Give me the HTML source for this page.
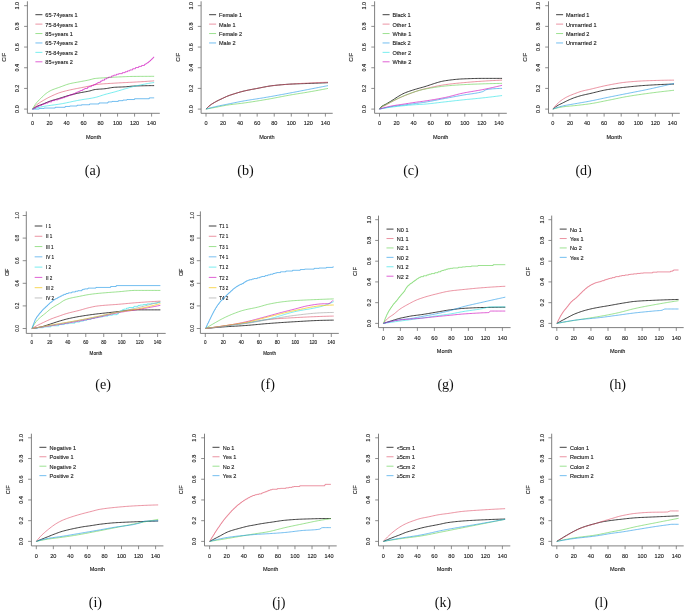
<!DOCTYPE html>
<html><head><meta charset="utf-8"><title>CIF curves</title>
<style>
html,body{margin:0;padding:0;background:#fff;}
body{width:685px;height:611px;overflow:hidden;}
svg{display:block;}
.gp text{text-rendering:geometricPrecision;}
text{font-family:"Liberation Sans",sans-serif;fill:#1a1a1a;stroke:#1a1a1a;stroke-width:0.12px;}
text.cap{font-family:"Liberation Serif",serif;font-size:14.1px;fill:#111;stroke:none;}
</style></head>
<body>
<svg width="685" height="611" viewBox="0 0 685 611">
<defs><filter id="bl" x="0" y="0" width="100%" height="100%"><feGaussianBlur stdDeviation="0.4"/></filter></defs>
<rect width="685" height="611" fill="#fff"/>
<g filter="url(#bl)">
<g font-size="5.55"><path d="M27.4 1.3V113.3H159.8" fill="none" stroke="#727272" stroke-width="0.9"/>
<path d="M24.1 109.1H27.4M24.1 88.42H27.4M24.1 67.74H27.4M24.1 47.06H27.4M24.1 26.38H27.4M24.1 5.7H27.4M32.5 113.3V116.6M49.51 113.3V116.6M66.53 113.3V116.6M83.54 113.3V116.6M100.56 113.3V116.6M117.57 113.3V116.6M134.59 113.3V116.6M151.6 113.3V116.6" fill="none" stroke="#727272" stroke-width="0.8"/>
<text x="32.5" y="125" text-anchor="middle">0</text>
<text x="49.51" y="125" text-anchor="middle">20</text>
<text x="66.53" y="125" text-anchor="middle">40</text>
<text x="83.54" y="125" text-anchor="middle">60</text>
<text x="100.56" y="125" text-anchor="middle">80</text>
<text x="117.57" y="125" text-anchor="middle">100</text>
<text x="134.59" y="125" text-anchor="middle">120</text>
<text x="151.6" y="125" text-anchor="middle">140</text>
<text transform="translate(19.2 109.1) rotate(-90)" text-anchor="middle">0.0</text>
<text transform="translate(19.2 88.42) rotate(-90)" text-anchor="middle">0.2</text>
<text transform="translate(19.2 67.74) rotate(-90)" text-anchor="middle">0.4</text>
<text transform="translate(19.2 47.06) rotate(-90)" text-anchor="middle">0.6</text>
<text transform="translate(19.2 26.38) rotate(-90)" text-anchor="middle">0.8</text>
<text transform="translate(19.2 5.7) rotate(-90)" text-anchor="middle">1.0</text>
<text x="93.6" y="138.8" text-anchor="middle">Month</text>
<text transform="translate(6.2 57.3) rotate(-90)" text-anchor="middle">CIF</text>
<path d="M35.4 14.7H42.4" stroke="#000000" stroke-width="1" stroke-opacity="0.75"/>
<text x="45.3" y="17.2">65-74years 1</text>
<path d="M35.4 24.12H42.4" stroke="#DF536B" stroke-width="1" stroke-opacity="0.62"/>
<text x="45.3" y="26.62">75-84years 1</text>
<path d="M35.4 33.54H42.4" stroke="#61D04F" stroke-width="1" stroke-opacity="0.62"/>
<text x="45.3" y="36.04">85+years 1</text>
<path d="M35.4 42.96H42.4" stroke="#2297E6" stroke-width="1" stroke-opacity="0.62"/>
<text x="45.3" y="45.46">65-74years 2</text>
<path d="M35.4 52.38H42.4" stroke="#28E2E5" stroke-width="1" stroke-opacity="0.62"/>
<text x="45.3" y="54.88">75-84years 2</text>
<path d="M35.4 61.8H42.4" stroke="#CD0BBC" stroke-width="1" stroke-opacity="0.62"/>
<text x="45.3" y="64.3">85+years 2</text>
<path d="M32.5 109.1 33.87 108.18 35.23 107.33 36.6 106.57 37.97 105.93 39.33 105.37 40.7 104.86 42.07 104.36 43.44 103.84 44.8 103.28 46.17 102.7 47.54 102.12 48.9 101.57 50.27 101.05 51.64 100.6 53 100.18 54.37 99.79 55.74 99.41 57.1 99.03 58.47 98.62 59.84 98.2 61.2 97.77 62.57 97.33 63.94 96.9 65.31 96.47 66.67 96.05 68.04 95.64 69.41 95.26 70.77 94.9 72.14 94.55 73.51 94.22 74.87 93.89 76.24 93.58 77.61 93.28 78.97 92.99 80.34 92.71 81.71 92.45 83.07 92.2 84.44 91.97 85.81 91.73 87.18 91.48 88.54 91.21 89.91 90.91 91.28 90.52 92.64 90.09 94.01 89.73 95.38 89.5 96.74 89.35 98.11 89.23 99.48 89.14 100.84 89.05 102.21 88.96 103.58 88.85 104.94 88.72 106.31 88.54 107.68 88.32 109.05 88.07 110.41 87.83 111.78 87.6 113.15 87.42 114.51 87.29 115.88 87.21 117.25 87.15 118.61 87.09 119.98 87.05 121.35 87 122.71 86.95 124.08 86.89 125.45 86.8 126.81 86.69 128.18 86.55 129.55 86.41 130.92 86.27 132.28 86.16 133.65 86.07 135.02 86.01 136.38 85.97 137.75 85.92 139.12 85.88 140.48 85.84 141.85 85.8 143.22 85.77 144.58 85.74 145.95 85.71 147.32 85.69 148.68 85.67 150.05 85.65 151.42 85.64 152.79 85.63 154.15 85.63" fill="none" stroke="#000000" stroke-width="1" stroke-opacity="0.75"/>
<path d="M32.5 109.1 33.87 107.58 35.23 106.17 36.6 104.92 37.97 103.85 39.33 102.89 40.7 102.02 42.07 101.19 43.44 100.38 44.8 99.58 46.17 98.8 47.54 98.05 48.9 97.33 50.27 96.65 51.64 96 53 95.37 54.37 94.75 55.74 94.16 57.1 93.6 58.47 93.08 59.84 92.6 61.2 92.17 62.57 91.77 63.94 91.4 65.31 91.05 66.67 90.71 68.04 90.39 69.41 90.07 70.77 89.76 72.14 89.47 73.51 89.19 74.87 88.92 76.24 88.65 77.61 88.39 78.97 88.12 80.34 87.85 81.71 87.59 83.07 87.33 84.44 87.07 85.81 86.8 87.18 86.53 88.54 86.25 89.91 85.95 91.28 85.58 92.64 85.19 94.01 84.86 95.38 84.64 96.74 84.47 98.11 84.32 99.48 84.18 100.84 84.06 102.21 83.94 103.58 83.84 104.94 83.74 106.31 83.65 107.68 83.56 109.05 83.48 110.41 83.4 111.78 83.32 113.15 83.24 114.51 83.15 115.88 83.07 117.25 82.99 118.61 82.91 119.98 82.84 121.35 82.77 122.71 82.7 124.08 82.63 125.45 82.56 126.81 82.5 128.18 82.43 129.55 82.36 130.92 82.29 132.28 82.22 133.65 82.15 135.02 82.07 136.38 81.99 137.75 81.91 139.12 81.83 140.48 81.75 141.85 81.66 143.22 81.58 144.58 81.49 145.95 81.41 147.32 81.32 148.68 81.23 150.05 81.14 151.42 81.05 152.79 80.96 154.15 80.87" fill="none" stroke="#DF536B" stroke-width="1" stroke-opacity="0.62"/>
<path d="M32.5 109.1 33.87 106.69 35.23 104.54 36.6 102.67 37.97 101.13 39.33 99.82 40.7 98.48 42.07 97.07 43.44 95.72 44.8 94.52 46.17 93.42 47.54 92.44 48.9 91.55 50.27 90.77 51.64 90.12 53 89.55 54.37 89.03 55.74 88.54 57.1 88.07 58.47 87.6 59.84 87.13 61.2 86.62 62.57 86.11 63.94 85.59 65.31 85.09 66.67 84.61 68.04 84.17 69.41 83.78 70.77 83.44 72.14 83.15 73.51 82.89 74.87 82.64 76.24 82.4 77.61 82.16 78.97 81.91 80.34 81.65 81.71 81.39 83.07 81.13 84.44 80.87 85.81 80.6 87.18 80.33 88.54 80.05 89.91 79.74 91.28 79.37 92.64 78.98 94.01 78.65 95.38 78.44 96.74 78.3 98.11 78.19 99.48 78.09 100.84 78.01 102.21 77.93 103.58 77.85 104.94 77.76 106.31 77.67 107.68 77.57 109.05 77.48 110.41 77.39 111.78 77.3 113.15 77.22 114.51 77.15 115.88 77.09 117.25 77.02 118.61 76.95 119.98 76.89 121.35 76.83 122.71 76.76 124.08 76.71 125.45 76.65 126.81 76.6 128.18 76.55 129.55 76.51 130.92 76.48 132.28 76.45 133.65 76.43 135.02 76.42 136.38 76.41 137.75 76.4 139.12 76.38 140.48 76.37 141.85 76.37 143.22 76.36 144.58 76.35 145.95 76.34 147.32 76.34 148.68 76.33 150.05 76.33 151.42 76.32 152.79 76.32 154.15 76.32" fill="none" stroke="#61D04F" stroke-width="1" stroke-opacity="0.62"/>
<path d="M32.5 109.1 39.13 109.1 39.13 108.45 44 108.45 44 108.04 55.2 108.04 55.2 107.31 65.18 107.31 65.18 106.46 69.68 106.46 69.68 106.01 77.11 106.01 77.11 105.22 81.61 105.22 81.61 104.75 89.52 104.75 89.52 103.97 99.02 103.97 99.02 102.96 108.02 102.96 108.02 101.92 112.1 101.92 112.1 101.43 118.31 101.43 118.31 100.67 122.93 100.67 122.93 100.06 127.01 100.06 127.01 99.53 134.56 99.53 134.56 98.73 149.28 98.73 149.28 97.86 154.15 97.86" fill="none" stroke="#2297E6" stroke-width="1" stroke-opacity="0.62"/>
<path d="M32.5 109.1 33.87 108.71 35.23 108.33 36.6 107.97 37.97 107.63 39.33 107.31 40.7 107.01 42.07 106.73 43.44 106.47 44.8 106.23 46.17 106.01 47.54 105.81 48.9 105.62 50.27 105.43 51.64 105.23 53 105.04 54.37 104.85 55.74 104.67 57.1 104.47 58.47 104.27 59.84 104.06 61.2 103.83 62.57 103.58 63.94 103.32 65.31 103.05 66.67 102.77 68.04 102.48 69.41 102.19 70.77 101.9 72.14 101.6 73.51 101.31 74.87 101.02 76.24 100.74 77.61 100.47 78.97 100.21 80.34 99.96 81.71 99.73 83.07 99.51 84.44 99.31 85.81 99.1 87.18 98.9 88.54 98.69 89.91 98.47 91.28 98.24 92.64 97.99 94.01 97.72 95.38 97.42 96.74 97.07 98.11 96.66 99.48 96.23 100.84 95.77 102.21 95.32 103.58 94.89 104.94 94.48 106.31 94.11 107.68 93.74 109.05 93.39 110.41 93.04 111.78 92.69 113.15 92.33 114.51 91.96 115.88 91.57 117.25 91.17 118.61 90.77 119.98 90.36 121.35 89.95 122.71 89.55 124.08 89.15 125.45 88.76 126.81 88.36 128.18 87.97 129.55 87.58 130.92 87.2 132.28 86.83 133.65 86.49 135.02 86.17 136.38 85.86 137.75 85.56 139.12 85.26 140.48 84.97 141.85 84.68 143.22 84.4 144.58 84.13 145.95 83.87 147.32 83.62 148.68 83.38 150.05 83.15 151.42 82.93 152.79 82.72 154.15 82.53" fill="none" stroke="#28E2E5" stroke-width="1" stroke-opacity="0.62"/>
<path d="M32.5 109.1 33.65 109.1 33.65 108.32 35.48 108.32 35.48 107.19 37.18 107.19 37.18 106.29 39.12 106.29 39.12 105.45 41.61 105.45 41.61 104.52 43.31 104.52 43.31 103.89 45.31 103.89 45.31 103.06 48.05 103.06 48.05 101.9 51.69 101.9 51.69 100.6 54.61 100.6 54.61 99.83 58.07 99.83 58.07 98.98 60.37 98.98 60.37 98.33 62.38 98.33 62.38 97.68 64.56 97.68 64.56 96.91 66.45 96.91 66.45 96.22 68.45 96.22 68.45 95.46 70.09 95.46 70.09 94.84 72.76 94.84 72.76 93.81 75.19 93.81 75.19 92.83 76.53 92.83 76.53 92.28 77.86 92.28 77.86 91.73 79.38 91.73 79.38 91.08 80.66 91.08 80.66 90.51 82.48 90.51 82.48 89.66 83.76 89.66 83.76 89.05 84.97 89.05 84.97 88.47 87.52 88.47 87.52 87.25 88.86 87.25 88.86 86.64 91.41 86.64 91.41 85.56 93.71 85.56 93.71 84.62 95.78 84.62 95.78 83.67 96.93 83.67 96.93 83.08 98.09 83.08 98.09 82.45 100.33 82.45 100.33 81.17 102.1 81.17 102.1 80.19 104.52 80.19 104.52 78.94 106.59 78.94 106.59 78.01 108.53 78.01 108.53 77.17 111.63 77.17 111.63 75.94 113.82 75.94 113.82 75.14 116.49 75.14 116.49 74.28 118.73 74.28 118.73 73.64 122.32 73.64 122.32 72.65 125.17 72.65 125.17 71.73 127.48 71.73 127.48 70.87 129.85 70.87 129.85 69.91 132.7 69.91 132.7 68.71 135.56 68.71 135.56 67.54 138.71 67.54 138.71 66.42 141.63 66.42 141.63 65.46 144.48 65.46 144.48 64.33 145.58 64.33 145.58 63.8 146.61 63.8 146.61 63.19 147.4 63.19 147.4 62.63 148.55 62.63 148.55 61.71 149.46 61.71 149.46 60.94 150.5 60.94 150.5 60.04 151.41 60.04 151.41 59.21 152.26 59.21 152.26 58.39 153.11 58.39 153.11 57.52 153.78 57.52 153.78 56.81 153.9 56.81" fill="none" stroke="#CD0BBC" stroke-width="1" stroke-opacity="0.62"/>
<text class="cap" x="92.6" y="174.7" text-anchor="middle">(a)</text></g>
<g font-size="5.55"><path d="M201.1 1.3V113.3H332.7" fill="none" stroke="#727272" stroke-width="0.9"/>
<path d="M197.8 109.1H201.1M197.8 88.42H201.1M197.8 67.74H201.1M197.8 47.06H201.1M197.8 26.38H201.1M197.8 5.7H201.1M206 113.3V116.6M223.06 113.3V116.6M240.11 113.3V116.6M257.17 113.3V116.6M274.23 113.3V116.6M291.29 113.3V116.6M308.34 113.3V116.6M325.4 113.3V116.6" fill="none" stroke="#727272" stroke-width="0.8"/>
<text x="206" y="125" text-anchor="middle">0</text>
<text x="223.06" y="125" text-anchor="middle">20</text>
<text x="240.11" y="125" text-anchor="middle">40</text>
<text x="257.17" y="125" text-anchor="middle">60</text>
<text x="274.23" y="125" text-anchor="middle">80</text>
<text x="291.29" y="125" text-anchor="middle">100</text>
<text x="308.34" y="125" text-anchor="middle">120</text>
<text x="325.4" y="125" text-anchor="middle">140</text>
<text transform="translate(192.9 109.1) rotate(-90)" text-anchor="middle">0.0</text>
<text transform="translate(192.9 88.42) rotate(-90)" text-anchor="middle">0.2</text>
<text transform="translate(192.9 67.74) rotate(-90)" text-anchor="middle">0.4</text>
<text transform="translate(192.9 47.06) rotate(-90)" text-anchor="middle">0.6</text>
<text transform="translate(192.9 26.38) rotate(-90)" text-anchor="middle">0.8</text>
<text transform="translate(192.9 5.7) rotate(-90)" text-anchor="middle">1.0</text>
<text x="266.9" y="138.8" text-anchor="middle">Month</text>
<text transform="translate(179.9 57.3) rotate(-90)" text-anchor="middle">CIF</text>
<path d="M209.1 14.7H216.1" stroke="#000000" stroke-width="1" stroke-opacity="0.75"/>
<text x="219" y="17.2">Female 1</text>
<path d="M209.1 24.12H216.1" stroke="#DF536B" stroke-width="1" stroke-opacity="0.62"/>
<text x="219" y="26.62">Male 1</text>
<path d="M209.1 33.54H216.1" stroke="#61D04F" stroke-width="1" stroke-opacity="0.62"/>
<text x="219" y="36.04">Female 2</text>
<path d="M209.1 42.96H216.1" stroke="#2297E6" stroke-width="1" stroke-opacity="0.62"/>
<text x="219" y="45.46">Male 2</text>
<path d="M206 109.1 207.37 107.69 208.74 106.39 210.11 105.26 211.48 104.28 212.85 103.4 214.22 102.58 215.59 101.81 216.96 101.07 218.33 100.38 219.7 99.72 221.07 99.08 222.44 98.44 223.81 97.79 225.18 97.15 226.55 96.53 227.93 95.96 229.3 95.45 230.67 94.97 232.04 94.52 233.41 94.08 234.78 93.65 236.15 93.23 237.52 92.81 238.89 92.4 240.26 92 241.63 91.63 243 91.28 244.37 90.95 245.74 90.65 247.11 90.35 248.48 90.07 249.85 89.8 251.22 89.53 252.59 89.28 253.96 89.02 255.33 88.76 256.7 88.51 258.07 88.25 259.44 87.98 260.81 87.71 262.18 87.43 263.55 87.16 264.92 86.9 266.29 86.64 267.66 86.4 269.03 86.16 270.41 85.95 271.78 85.76 273.15 85.6 274.52 85.44 275.89 85.29 277.26 85.15 278.63 85.02 280 84.89 281.37 84.76 282.74 84.65 284.11 84.54 285.48 84.44 286.85 84.34 288.22 84.25 289.59 84.17 290.96 84.09 292.33 84.03 293.7 83.96 295.07 83.91 296.44 83.85 297.81 83.8 299.18 83.76 300.55 83.71 301.92 83.67 303.29 83.63 304.66 83.58 306.03 83.54 307.4 83.49 308.77 83.44 310.14 83.39 311.51 83.34 312.89 83.29 314.26 83.24 315.63 83.19 317 83.14 318.37 83.09 319.74 83.04 321.11 82.99 322.48 82.94 323.85 82.89 325.22 82.83 326.59 82.78 327.96 82.73" fill="none" stroke="#000000" stroke-width="1" stroke-opacity="0.75"/>
<path d="M206 109.1 207.37 107.69 208.74 106.39 210.11 105.26 211.48 104.28 212.85 103.4 214.22 102.58 215.59 101.81 216.96 101.07 218.33 100.38 219.7 99.72 221.07 99.08 222.44 98.44 223.81 97.79 225.18 97.15 226.55 96.53 227.93 95.96 229.3 95.45 230.67 94.97 232.04 94.52 233.41 94.08 234.78 93.65 236.15 93.23 237.52 92.81 238.89 92.4 240.26 92 241.63 91.63 243 91.28 244.37 90.95 245.74 90.65 247.11 90.35 248.48 90.07 249.85 89.8 251.22 89.53 252.59 89.28 253.96 89.02 255.33 88.76 256.7 88.51 258.07 88.25 259.44 87.98 260.81 87.71 262.18 87.43 263.55 87.16 264.92 86.9 266.29 86.64 267.66 86.4 269.03 86.16 270.41 85.95 271.78 85.76 273.15 85.6 274.52 85.44 275.89 85.3 277.26 85.17 278.63 85.04 280 84.92 281.37 84.81 282.74 84.7 284.11 84.59 285.48 84.49 286.85 84.39 288.22 84.29 289.59 84.2 290.96 84.1 292.33 84 293.7 83.91 295.07 83.82 296.44 83.73 297.81 83.64 299.18 83.56 300.55 83.47 301.92 83.39 303.29 83.31 304.66 83.24 306.03 83.16 307.4 83.09 308.77 83.02 310.14 82.95 311.51 82.89 312.89 82.82 314.26 82.76 315.63 82.7 317 82.64 318.37 82.58 319.74 82.52 321.11 82.46 322.48 82.41 323.85 82.36 325.22 82.31 326.59 82.26 327.96 82.22" fill="none" stroke="#DF536B" stroke-width="1" stroke-opacity="0.62"/>
<path d="M206 109.1 207.37 108.85 208.74 108.6 210.11 108.34 211.48 108.09 212.85 107.84 214.22 107.58 215.59 107.33 216.96 107.07 218.33 106.8 219.7 106.53 221.07 106.25 222.44 105.98 223.81 105.72 225.18 105.46 226.55 105.22 227.93 105 229.3 104.8 230.67 104.62 232.04 104.44 233.41 104.28 234.78 104.12 236.15 103.96 237.52 103.81 238.89 103.65 240.26 103.49 241.63 103.32 243 103.14 244.37 102.95 245.74 102.76 247.11 102.56 248.48 102.36 249.85 102.15 251.22 101.95 252.59 101.73 253.96 101.52 255.33 101.3 256.7 101.08 258.07 100.86 259.44 100.64 260.81 100.41 262.18 100.18 263.55 99.95 264.92 99.72 266.29 99.49 267.66 99.25 269.03 99 270.41 98.75 271.78 98.5 273.15 98.24 274.52 97.98 275.89 97.72 277.26 97.46 278.63 97.19 280 96.93 281.37 96.67 282.74 96.4 284.11 96.14 285.48 95.88 286.85 95.63 288.22 95.38 289.59 95.13 290.96 94.89 292.33 94.65 293.7 94.42 295.07 94.2 296.44 93.97 297.81 93.75 299.18 93.54 300.55 93.32 301.92 93.1 303.29 92.88 304.66 92.66 306.03 92.43 307.4 92.2 308.77 91.96 310.14 91.73 311.51 91.48 312.89 91.24 314.26 90.99 315.63 90.75 317 90.5 318.37 90.24 319.74 89.99 321.11 89.73 322.48 89.48 323.85 89.21 325.22 88.95 326.59 88.69 327.96 88.42" fill="none" stroke="#61D04F" stroke-width="1" stroke-opacity="0.62"/>
<path d="M206 109.1 207.37 108.72 208.74 108.35 210.11 107.98 211.48 107.63 212.85 107.28 214.22 106.95 215.59 106.62 216.96 106.31 218.33 106.01 219.7 105.72 221.07 105.44 222.44 105.17 223.81 104.9 225.18 104.63 226.55 104.36 227.93 104.08 229.3 103.81 230.67 103.53 232.04 103.25 233.41 102.96 234.78 102.68 236.15 102.41 237.52 102.13 238.89 101.86 240.26 101.59 241.63 101.34 243 101.08 244.37 100.84 245.74 100.6 247.11 100.37 248.48 100.15 249.85 99.93 251.22 99.71 252.59 99.5 253.96 99.28 255.33 99.07 256.7 98.86 258.07 98.65 259.44 98.43 260.81 98.22 262.18 98 263.55 97.78 264.92 97.55 266.29 97.31 267.66 97.08 269.03 96.84 270.41 96.6 271.78 96.36 273.15 96.11 274.52 95.87 275.89 95.62 277.26 95.37 278.63 95.12 280 94.87 281.37 94.62 282.74 94.36 284.11 94.11 285.48 93.85 286.85 93.6 288.22 93.34 289.59 93.08 290.96 92.82 292.33 92.57 293.7 92.3 295.07 92.04 296.44 91.78 297.81 91.51 299.18 91.25 300.55 90.98 301.92 90.71 303.29 90.44 304.66 90.17 306.03 89.9 307.4 89.64 308.77 89.37 310.14 89.1 311.51 88.84 312.89 88.57 314.26 88.3 315.63 88.04 317 87.77 318.37 87.5 319.74 87.23 321.11 86.97 322.48 86.7 323.85 86.43 325.22 86.16 326.59 85.9 327.96 85.63" fill="none" stroke="#2297E6" stroke-width="1" stroke-opacity="0.62"/>
<text class="cap" x="245.5" y="174.7" text-anchor="middle">(b)</text></g>
<g font-size="5.55"><path d="M374.6 1.3V113.3H506.8" fill="none" stroke="#727272" stroke-width="0.9"/>
<path d="M371.3 109.1H374.6M371.3 88.42H374.6M371.3 67.74H374.6M371.3 47.06H374.6M371.3 26.38H374.6M371.3 5.7H374.6M379.5 113.3V116.6M396.56 113.3V116.6M413.61 113.3V116.6M430.67 113.3V116.6M447.73 113.3V116.6M464.79 113.3V116.6M481.84 113.3V116.6M498.9 113.3V116.6" fill="none" stroke="#727272" stroke-width="0.8"/>
<text x="379.5" y="125" text-anchor="middle">0</text>
<text x="396.56" y="125" text-anchor="middle">20</text>
<text x="413.61" y="125" text-anchor="middle">40</text>
<text x="430.67" y="125" text-anchor="middle">60</text>
<text x="447.73" y="125" text-anchor="middle">80</text>
<text x="464.79" y="125" text-anchor="middle">100</text>
<text x="481.84" y="125" text-anchor="middle">120</text>
<text x="498.9" y="125" text-anchor="middle">140</text>
<text transform="translate(366.4 109.1) rotate(-90)" text-anchor="middle">0.0</text>
<text transform="translate(366.4 88.42) rotate(-90)" text-anchor="middle">0.2</text>
<text transform="translate(366.4 67.74) rotate(-90)" text-anchor="middle">0.4</text>
<text transform="translate(366.4 47.06) rotate(-90)" text-anchor="middle">0.6</text>
<text transform="translate(366.4 26.38) rotate(-90)" text-anchor="middle">0.8</text>
<text transform="translate(366.4 5.7) rotate(-90)" text-anchor="middle">1.0</text>
<text x="440.7" y="138.8" text-anchor="middle">Month</text>
<text transform="translate(353.4 57.3) rotate(-90)" text-anchor="middle">CIF</text>
<path d="M382.6 14.7H389.6" stroke="#000000" stroke-width="1" stroke-opacity="0.75"/>
<text x="392.5" y="17.2">Black 1</text>
<path d="M382.6 24.12H389.6" stroke="#DF536B" stroke-width="1" stroke-opacity="0.62"/>
<text x="392.5" y="26.62">Other 1</text>
<path d="M382.6 33.54H389.6" stroke="#61D04F" stroke-width="1" stroke-opacity="0.62"/>
<text x="392.5" y="36.04">White 1</text>
<path d="M382.6 42.96H389.6" stroke="#2297E6" stroke-width="1" stroke-opacity="0.62"/>
<text x="392.5" y="45.46">Black 2</text>
<path d="M382.6 52.38H389.6" stroke="#28E2E5" stroke-width="1" stroke-opacity="0.62"/>
<text x="392.5" y="54.88">Other 2</text>
<path d="M382.6 61.8H389.6" stroke="#CD0BBC" stroke-width="1" stroke-opacity="0.62"/>
<text x="392.5" y="64.3">White 2</text>
<path d="M379.5 109.1 380.88 107.15 382.25 106.04 383.63 105.27 385.01 104.6 386.39 103.85 387.76 103.04 389.14 102.23 390.52 101.4 391.89 100.56 393.27 99.68 394.65 98.76 396.02 97.85 397.4 96.96 398.78 96.13 400.16 95.32 401.53 94.54 402.91 93.81 404.29 93.15 405.66 92.57 407.04 92.04 408.42 91.55 409.79 91.07 411.17 90.61 412.55 90.16 413.93 89.74 415.3 89.32 416.68 88.92 418.06 88.52 419.43 88.14 420.81 87.76 422.19 87.38 423.56 86.99 424.94 86.58 426.32 86.15 427.7 85.7 429.07 85.25 430.45 84.79 431.83 84.32 433.2 83.86 434.58 83.41 435.96 82.98 437.34 82.56 438.71 82.16 440.09 81.79 441.47 81.45 442.84 81.15 444.22 80.89 445.6 80.68 446.97 80.48 448.35 80.28 449.73 80.09 451.11 79.92 452.48 79.75 453.86 79.59 455.24 79.45 456.61 79.32 457.99 79.2 459.37 79.09 460.74 79 462.12 78.93 463.5 78.87 464.88 78.81 466.25 78.76 467.63 78.71 469.01 78.66 470.38 78.61 471.76 78.57 473.14 78.53 474.51 78.49 475.89 78.46 477.27 78.43 478.65 78.41 480.02 78.4 481.4 78.39 482.78 78.39 484.15 78.39 485.53 78.39 486.91 78.39 488.29 78.39 489.66 78.39 491.04 78.39 492.42 78.39 493.79 78.39 495.17 78.39 496.55 78.39 497.92 78.39 499.3 78.39 500.68 78.39 502.06 78.39" fill="none" stroke="#000000" stroke-width="1" stroke-opacity="0.75"/>
<path d="M379.5 109.1 380.88 107.8 382.25 106.89 383.63 106.17 385.01 105.51 386.39 104.79 387.76 104.01 389.14 103.22 390.52 102.43 391.89 101.67 393.27 100.95 394.65 100.26 396.02 99.58 397.4 98.92 398.78 98.27 400.16 97.64 401.53 97.03 402.91 96.42 404.29 95.84 405.66 95.28 407.04 94.73 408.42 94.2 409.79 93.67 411.17 93.15 412.55 92.63 413.93 92.12 415.3 91.64 416.68 91.18 418.06 90.74 419.43 90.31 420.81 89.91 422.19 89.52 423.56 89.17 424.94 88.82 426.32 88.48 427.7 88.15 429.07 87.82 430.45 87.5 431.83 87.18 433.2 86.88 434.58 86.58 435.96 86.29 437.34 86.01 438.71 85.75 440.09 85.5 441.47 85.25 442.84 85.03 444.22 84.81 445.6 84.61 446.97 84.42 448.35 84.24 449.73 84.07 451.11 83.91 452.48 83.75 453.86 83.6 455.24 83.45 456.61 83.31 457.99 83.18 459.37 83.04 460.74 82.91 462.12 82.78 463.5 82.66 464.88 82.53 466.25 82.41 467.63 82.29 469.01 82.17 470.38 82.06 471.76 81.94 473.14 81.83 474.51 81.73 475.89 81.63 477.27 81.52 478.65 81.43 480.02 81.33 481.4 81.24 482.78 81.16 484.15 81.07 485.53 80.99 486.91 80.9 488.29 80.82 489.66 80.75 491.04 80.67 492.42 80.6 493.79 80.52 495.17 80.45 496.55 80.39 497.92 80.32 499.3 80.26 500.68 80.2 502.06 80.15" fill="none" stroke="#DF536B" stroke-width="1" stroke-opacity="0.62"/>
<path d="M379.5 109.1 380.88 107.33 382.25 106.31 383.63 105.58 385.01 104.96 386.39 104.28 387.76 103.57 389.14 102.86 390.52 102.16 391.89 101.46 393.27 100.77 394.65 100.07 396.02 99.38 397.4 98.71 398.78 98.07 400.16 97.43 401.53 96.81 402.91 96.21 404.29 95.64 405.66 95.09 407.04 94.57 408.42 94.06 409.79 93.56 411.17 93.06 412.55 92.56 413.93 92.08 415.3 91.61 416.68 91.19 418.06 90.78 419.43 90.39 420.81 90.02 422.19 89.69 423.56 89.39 424.94 89.11 426.32 88.84 427.7 88.58 429.07 88.32 430.45 88.08 431.83 87.84 433.2 87.61 434.58 87.39 435.96 87.18 437.34 86.98 438.71 86.79 440.09 86.61 441.47 86.43 442.84 86.27 444.22 86.12 445.6 85.98 446.97 85.85 448.35 85.72 449.73 85.6 451.11 85.48 452.48 85.37 453.86 85.26 455.24 85.16 456.61 85.07 457.99 84.97 459.37 84.89 460.74 84.81 462.12 84.73 463.5 84.65 464.88 84.58 466.25 84.51 467.63 84.45 469.01 84.38 470.38 84.32 471.76 84.26 473.14 84.2 474.51 84.15 475.89 84.1 477.27 84.04 478.65 84 480.02 83.95 481.4 83.9 482.78 83.86 484.15 83.81 485.53 83.77 486.91 83.73 488.29 83.69 489.66 83.65 491.04 83.61 492.42 83.57 493.79 83.54 495.17 83.5 496.55 83.47 497.92 83.44 499.3 83.41 500.68 83.38 502.06 83.35" fill="none" stroke="#61D04F" stroke-width="1" stroke-opacity="0.62"/>
<path d="M379.5 109.1 380.88 108.77 382.25 108.45 383.63 108.14 385.01 107.84 386.39 107.55 387.76 107.28 389.14 107.02 390.52 106.78 391.89 106.55 393.27 106.34 394.65 106.15 396.02 105.96 397.4 105.79 398.78 105.62 400.16 105.46 401.53 105.3 402.91 105.13 404.29 104.96 405.66 104.78 407.04 104.6 408.42 104.43 409.79 104.25 411.17 104.07 412.55 103.9 413.93 103.72 415.3 103.54 416.68 103.36 418.06 103.18 419.43 103.01 420.81 102.83 422.19 102.64 423.56 102.43 424.94 102.22 426.32 101.99 427.7 101.76 429.07 101.51 430.45 101.26 431.83 101 433.2 100.74 434.58 100.47 435.96 100.21 437.34 99.93 438.71 99.66 440.09 99.39 441.47 99.12 442.84 98.86 444.22 98.6 445.6 98.34 446.97 98.08 448.35 97.82 449.73 97.56 451.11 97.3 452.48 97.04 453.86 96.78 455.24 96.51 456.61 96.26 457.99 96 459.37 95.74 460.74 95.49 462.12 95.24 463.5 94.99 464.88 94.77 466.25 94.56 467.63 94.36 469.01 94.18 470.38 93.99 471.76 93.8 473.14 93.6 474.51 93.39 475.89 93.16 477.27 92.92 478.65 92.64 480.02 92.33 481.4 91.99 482.78 91.58 484.15 90.83 485.53 89.98 486.91 89.46 488.29 89.28 489.66 89.11 491.04 88.97 492.42 88.84 493.79 88.73 495.17 88.63 496.55 88.56 497.92 88.5 499.3 88.45 500.68 88.43 502.06 88.42" fill="none" stroke="#2297E6" stroke-width="1" stroke-opacity="0.62"/>
<path d="M379.5 109.1 380.88 108.84 382.25 108.59 383.63 108.35 385.01 108.11 386.39 107.88 387.76 107.65 389.14 107.44 390.52 107.25 391.89 107.06 393.27 106.89 394.65 106.72 396.02 106.56 397.4 106.4 398.78 106.24 400.16 106.09 401.53 105.95 402.91 105.8 404.29 105.67 405.66 105.53 407.04 105.4 408.42 105.28 409.79 105.16 411.17 105.04 412.55 104.93 413.93 104.82 415.3 104.72 416.68 104.62 418.06 104.54 419.43 104.47 420.81 104.39 422.19 104.31 423.56 104.22 424.94 104.11 426.32 103.99 427.7 103.86 429.07 103.72 430.45 103.57 431.83 103.42 433.2 103.26 434.58 103.1 435.96 102.93 437.34 102.77 438.71 102.6 440.09 102.43 441.47 102.27 442.84 102.11 444.22 101.95 445.6 101.8 446.97 101.64 448.35 101.49 449.73 101.33 451.11 101.18 452.48 101.02 453.86 100.86 455.24 100.71 456.61 100.56 457.99 100.4 459.37 100.25 460.74 100.1 462.12 99.95 463.5 99.81 464.88 99.67 466.25 99.53 467.63 99.39 469.01 99.26 470.38 99.13 471.76 99 473.14 98.86 474.51 98.73 475.89 98.6 477.27 98.46 478.65 98.32 480.02 98.18 481.4 98.04 482.78 97.89 484.15 97.73 485.53 97.58 486.91 97.42 488.29 97.26 489.66 97.1 491.04 96.94 492.42 96.77 493.79 96.6 495.17 96.43 496.55 96.26 497.92 96.09 499.3 95.91 500.68 95.73 502.06 95.55" fill="none" stroke="#28E2E5" stroke-width="1" stroke-opacity="0.62"/>
<path d="M379.5 109.1 380.88 108.69 382.25 108.28 383.63 107.9 385.01 107.53 386.39 107.17 387.76 106.83 389.14 106.52 390.52 106.22 391.89 105.94 393.27 105.68 394.65 105.45 396.02 105.23 397.4 105.02 398.78 104.82 400.16 104.63 401.53 104.43 402.91 104.23 404.29 104.03 405.66 103.81 407.04 103.59 408.42 103.37 409.79 103.16 411.17 102.94 412.55 102.72 413.93 102.51 415.3 102.31 416.68 102.11 418.06 101.93 419.43 101.75 420.81 101.58 422.19 101.39 423.56 101.2 424.94 100.99 426.32 100.78 427.7 100.57 429.07 100.36 430.45 100.14 431.83 99.92 433.2 99.69 434.58 99.46 435.96 99.22 437.34 98.98 438.71 98.73 440.09 98.47 441.47 98.21 442.84 97.95 444.22 97.68 445.6 97.4 446.97 97.09 448.35 96.77 449.73 96.43 451.11 96.08 452.48 95.71 453.86 95.35 455.24 94.98 456.61 94.62 457.99 94.26 459.37 93.92 460.74 93.6 462.12 93.29 463.5 93 464.88 92.73 466.25 92.47 467.63 92.23 469.01 91.98 470.38 91.75 471.76 91.52 473.14 91.29 474.51 91.06 475.89 90.83 477.27 90.59 478.65 90.35 480.02 90.1 481.4 89.85 482.78 89.58 484.15 89.3 485.53 89.02 486.91 88.74 488.29 88.45 489.66 88.15 491.04 87.85 492.42 87.55 493.79 87.24 495.17 86.93 496.55 86.62 497.92 86.3 499.3 85.98 500.68 85.65 502.06 85.32" fill="none" stroke="#CD0BBC" stroke-width="1" stroke-opacity="0.62"/>
<text class="cap" x="411" y="174.7" text-anchor="middle">(c)</text></g>
<g font-size="5.55"><path d="M548.5 1.3V113.3H679.8" fill="none" stroke="#727272" stroke-width="0.9"/>
<path d="M545.2 109.1H548.5M545.2 88.42H548.5M545.2 67.74H548.5M545.2 47.06H548.5M545.2 26.38H548.5M545.2 5.7H548.5M552.9 113.3V116.6M569.97 113.3V116.6M587.04 113.3V116.6M604.11 113.3V116.6M621.19 113.3V116.6M638.26 113.3V116.6M655.33 113.3V116.6M672.4 113.3V116.6" fill="none" stroke="#727272" stroke-width="0.8"/>
<text x="552.9" y="125" text-anchor="middle">0</text>
<text x="569.97" y="125" text-anchor="middle">20</text>
<text x="587.04" y="125" text-anchor="middle">40</text>
<text x="604.11" y="125" text-anchor="middle">60</text>
<text x="621.19" y="125" text-anchor="middle">80</text>
<text x="638.26" y="125" text-anchor="middle">100</text>
<text x="655.33" y="125" text-anchor="middle">120</text>
<text x="672.4" y="125" text-anchor="middle">140</text>
<text transform="translate(540.3 109.1) rotate(-90)" text-anchor="middle">0.0</text>
<text transform="translate(540.3 88.42) rotate(-90)" text-anchor="middle">0.2</text>
<text transform="translate(540.3 67.74) rotate(-90)" text-anchor="middle">0.4</text>
<text transform="translate(540.3 47.06) rotate(-90)" text-anchor="middle">0.6</text>
<text transform="translate(540.3 26.38) rotate(-90)" text-anchor="middle">0.8</text>
<text transform="translate(540.3 5.7) rotate(-90)" text-anchor="middle">1.0</text>
<text x="614.15" y="138.8" text-anchor="middle">Month</text>
<text transform="translate(527.3 57.3) rotate(-90)" text-anchor="middle">CIF</text>
<path d="M556.1 14.7H563.1" stroke="#000000" stroke-width="1" stroke-opacity="0.75"/>
<text x="566" y="17.2">Married 1</text>
<path d="M556.1 24.12H563.1" stroke="#DF536B" stroke-width="1" stroke-opacity="0.62"/>
<text x="566" y="26.62">Unmarried 1</text>
<path d="M556.1 33.54H563.1" stroke="#61D04F" stroke-width="1" stroke-opacity="0.62"/>
<text x="566" y="36.04">Married 2</text>
<path d="M556.1 42.96H563.1" stroke="#2297E6" stroke-width="1" stroke-opacity="0.62"/>
<text x="566" y="45.46">Unmarried 2</text>
<path d="M552.9 109.1 554.26 107.95 555.62 106.89 556.98 105.96 558.34 105.15 559.7 104.43 561.07 103.77 562.43 103.11 563.79 102.42 565.15 101.74 566.51 101.06 567.87 100.4 569.23 99.78 570.59 99.2 571.95 98.63 573.31 98.09 574.67 97.59 576.04 97.13 577.4 96.69 578.76 96.27 580.12 95.88 581.48 95.51 582.84 95.17 584.2 94.85 585.56 94.54 586.92 94.23 588.28 93.94 589.64 93.63 591.01 93.32 592.37 93 593.73 92.67 595.09 92.33 596.45 91.99 597.81 91.66 599.17 91.33 600.53 91.01 601.89 90.7 603.25 90.4 604.61 90.12 605.98 89.86 607.34 89.62 608.7 89.4 610.06 89.18 611.42 88.98 612.78 88.78 614.14 88.59 615.5 88.4 616.86 88.22 618.22 88.05 619.59 87.88 620.95 87.72 622.31 87.56 623.67 87.41 625.03 87.26 626.39 87.11 627.75 86.97 629.11 86.83 630.47 86.68 631.83 86.55 633.19 86.41 634.56 86.28 635.92 86.15 637.28 86.02 638.64 85.9 640 85.79 641.36 85.68 642.72 85.57 644.08 85.47 645.44 85.38 646.8 85.3 648.16 85.21 649.53 85.13 650.89 85.05 652.25 84.97 653.61 84.9 654.97 84.82 656.33 84.75 657.69 84.68 659.05 84.61 660.41 84.55 661.77 84.48 663.13 84.42 664.5 84.37 665.86 84.31 667.22 84.26 668.58 84.22 669.94 84.18 671.3 84.14 672.66 84.11 674.02 84.08" fill="none" stroke="#000000" stroke-width="1" stroke-opacity="0.75"/>
<path d="M552.9 109.1 554.26 107.28 555.62 105.61 556.98 104.13 558.34 102.84 559.7 101.65 561.07 100.57 562.43 99.59 563.79 98.71 565.15 97.91 566.51 97.17 567.87 96.49 569.23 95.85 570.59 95.26 571.95 94.71 573.31 94.18 574.67 93.67 576.04 93.16 577.4 92.65 578.76 92.15 580.12 91.68 581.48 91.27 582.84 90.91 584.2 90.58 585.56 90.28 586.92 89.98 588.28 89.69 589.64 89.39 591.01 89.08 592.37 88.75 593.73 88.42 595.09 88.09 596.45 87.75 597.81 87.42 599.17 87.08 600.53 86.76 601.89 86.44 603.25 86.13 604.61 85.83 605.98 85.54 607.34 85.27 608.7 85.01 610.06 84.75 611.42 84.48 612.78 84.23 614.14 83.97 615.5 83.73 616.86 83.49 618.22 83.26 619.59 83.04 620.95 82.83 622.31 82.63 623.67 82.45 625.03 82.29 626.39 82.15 627.75 82.02 629.11 81.89 630.47 81.77 631.83 81.65 633.19 81.54 634.56 81.44 635.92 81.34 637.28 81.24 638.64 81.15 640 81.07 641.36 80.99 642.72 80.92 644.08 80.86 645.44 80.81 646.8 80.76 648.16 80.71 649.53 80.66 650.89 80.62 652.25 80.57 653.61 80.53 654.97 80.49 656.33 80.44 657.69 80.41 659.05 80.37 660.41 80.33 661.77 80.3 663.13 80.27 664.5 80.24 665.86 80.22 667.22 80.2 668.58 80.18 669.94 80.17 671.3 80.16 672.66 80.15 674.02 80.15" fill="none" stroke="#DF536B" stroke-width="1" stroke-opacity="0.62"/>
<path d="M552.9 109.1 554.26 108.73 555.62 108.37 556.98 108.02 558.34 107.71 559.7 107.41 561.07 107.15 562.43 106.92 563.79 106.73 565.15 106.56 566.51 106.41 567.87 106.27 569.23 106.15 570.59 106.03 571.95 105.91 573.31 105.78 574.67 105.64 576.04 105.49 577.4 105.34 578.76 105.18 580.12 105.03 581.48 104.87 582.84 104.71 584.2 104.55 585.56 104.37 586.92 104.2 588.28 104.01 589.64 103.82 591.01 103.61 592.37 103.39 593.73 103.16 595.09 102.91 596.45 102.66 597.81 102.39 599.17 102.12 600.53 101.85 601.89 101.57 603.25 101.29 604.61 101.01 605.98 100.74 607.34 100.47 608.7 100.2 610.06 99.93 611.42 99.65 612.78 99.36 614.14 99.08 615.5 98.79 616.86 98.51 618.22 98.23 619.59 97.95 620.95 97.67 622.31 97.41 623.67 97.14 625.03 96.89 626.39 96.65 627.75 96.41 629.11 96.18 630.47 95.96 631.83 95.74 633.19 95.52 634.56 95.31 635.92 95.1 637.28 94.89 638.64 94.69 640 94.49 641.36 94.3 642.72 94.1 644.08 93.91 645.44 93.73 646.8 93.54 648.16 93.36 649.53 93.18 650.89 93 652.25 92.82 653.61 92.65 654.97 92.47 656.33 92.3 657.69 92.13 659.05 91.96 660.41 91.8 661.77 91.63 663.13 91.47 664.5 91.32 665.86 91.16 667.22 91.01 668.58 90.86 669.94 90.71 671.3 90.56 672.66 90.42 674.02 90.28" fill="none" stroke="#61D04F" stroke-width="1" stroke-opacity="0.62"/>
<path d="M552.9 109.1 554.26 108.59 555.62 108.1 556.98 107.64 558.34 107.19 559.7 106.78 561.07 106.39 562.43 106.04 563.79 105.73 565.15 105.45 566.51 105.19 567.87 104.94 569.23 104.71 570.59 104.49 571.95 104.27 573.31 104.04 574.67 103.81 576.04 103.57 577.4 103.33 578.76 103.09 580.12 102.86 581.48 102.62 582.84 102.39 584.2 102.15 585.56 101.91 586.92 101.66 588.28 101.41 589.64 101.16 591.01 100.9 592.37 100.63 593.73 100.35 595.09 100.07 596.45 99.78 597.81 99.49 599.17 99.2 600.53 98.91 601.89 98.62 603.25 98.33 604.61 98.04 605.98 97.75 607.34 97.47 608.7 97.19 610.06 96.92 611.42 96.64 612.78 96.37 614.14 96.1 615.5 95.82 616.86 95.55 618.22 95.28 619.59 95.01 620.95 94.74 622.31 94.47 623.67 94.2 625.03 93.93 626.39 93.66 627.75 93.39 629.11 93.12 630.47 92.85 631.83 92.59 633.19 92.32 634.56 92.05 635.92 91.79 637.28 91.52 638.64 91.25 640 90.98 641.36 90.71 642.72 90.44 644.08 90.16 645.44 89.87 646.8 89.59 648.16 89.3 649.53 89 650.89 88.71 652.25 88.41 653.61 88.11 654.97 87.81 656.33 87.51 657.69 87.2 659.05 86.89 660.41 86.58 661.77 86.27 663.13 85.96 664.5 85.64 665.86 85.32 667.22 85 668.58 84.67 669.94 84.35 671.3 84.02 672.66 83.69 674.02 83.35" fill="none" stroke="#2297E6" stroke-width="1" stroke-opacity="0.62"/>
<text class="cap" x="583.6" y="174.7" text-anchor="middle">(d)</text></g>
<g font-size="4.6"><path d="M26.3 211.4V333.4H165.7" fill="none" stroke="#727272" stroke-width="0.9"/>
<path d="M22.7 328.5H26.3M22.7 305.9H26.3M22.7 283.3H26.3M22.7 260.7H26.3M22.7 238.1H26.3M22.7 215.5H26.3M31.9 333.4V337M49.86 333.4V337M67.81 333.4V337M85.77 333.4V337M103.73 333.4V337M121.69 333.4V337M139.64 333.4V337M157.6 333.4V337" fill="none" stroke="#727272" stroke-width="0.8"/>
<text x="31.9" y="343.96" text-anchor="middle">0</text>
<text x="49.86" y="343.96" text-anchor="middle">20</text>
<text x="67.81" y="343.96" text-anchor="middle">40</text>
<text x="85.77" y="343.96" text-anchor="middle">60</text>
<text x="103.73" y="343.96" text-anchor="middle">80</text>
<text x="121.69" y="343.96" text-anchor="middle">100</text>
<text x="139.64" y="343.96" text-anchor="middle">120</text>
<text x="157.6" y="343.96" text-anchor="middle">140</text>
<text transform="translate(19.46 328.5) rotate(-90)" text-anchor="middle">0.0</text>
<text transform="translate(19.46 305.9) rotate(-90)" text-anchor="middle">0.2</text>
<text transform="translate(19.46 283.3) rotate(-90)" text-anchor="middle">0.4</text>
<text transform="translate(19.46 260.7) rotate(-90)" text-anchor="middle">0.6</text>
<text transform="translate(19.46 238.1) rotate(-90)" text-anchor="middle">0.8</text>
<text transform="translate(19.46 215.5) rotate(-90)" text-anchor="middle">1.0</text>
<text x="96" y="354.56" text-anchor="middle">Month</text>
<text transform="translate(8.56 272.4) rotate(-90)" text-anchor="middle">CIF</text>
<path d="M34.7 226H42.3" stroke="#000000" stroke-width="1" stroke-opacity="0.75"/>
<text x="46" y="228.16">I 1</text>
<path d="M34.7 236.28H42.3" stroke="#DF536B" stroke-width="1" stroke-opacity="0.62"/>
<text x="46" y="238.44">II 1</text>
<path d="M34.7 246.56H42.3" stroke="#61D04F" stroke-width="1" stroke-opacity="0.62"/>
<text x="46" y="248.72">III 1</text>
<path d="M34.7 256.84H42.3" stroke="#2297E6" stroke-width="1" stroke-opacity="0.62"/>
<text x="46" y="259">IV 1</text>
<path d="M34.7 267.12H42.3" stroke="#28E2E5" stroke-width="1" stroke-opacity="0.62"/>
<text x="46" y="269.28">I 2</text>
<path d="M34.7 277.4H42.3" stroke="#CD0BBC" stroke-width="1" stroke-opacity="0.62"/>
<text x="46" y="279.56">II 2</text>
<path d="M34.7 287.68H42.3" stroke="#F5C710" stroke-width="1" stroke-opacity="0.7"/>
<text x="46" y="289.84">III 2</text>
<path d="M34.7 297.96H42.3" stroke="#9E9E9E" stroke-width="1" stroke-opacity="0.62"/>
<text x="46" y="300.12">IV 2</text>
<path d="M31.9 328.5 33.34 328.32 34.79 328.1 36.23 327.86 37.67 327.59 39.12 327.3 40.56 326.99 42.01 326.65 43.45 326.25 44.89 325.82 46.34 325.35 47.78 324.88 49.22 324.41 50.67 323.95 52.11 323.47 53.55 322.99 55 322.5 56.44 322.02 57.89 321.56 59.33 321.12 60.77 320.69 62.22 320.27 63.66 319.86 65.1 319.46 66.55 319.09 67.99 318.74 69.43 318.41 70.88 318.1 72.32 317.8 73.77 317.51 75.21 317.23 76.65 316.96 78.1 316.7 79.54 316.45 80.98 316.21 82.43 315.97 83.87 315.74 85.31 315.52 86.76 315.31 88.2 315.1 89.65 314.89 91.09 314.68 92.53 314.48 93.98 314.28 95.42 314.1 96.86 313.93 98.31 313.76 99.75 313.6 101.19 313.44 102.64 313.28 104.08 313.13 105.53 312.97 106.97 312.82 108.41 312.66 109.86 312.5 111.3 312.34 112.74 312.19 114.19 312.03 115.63 311.87 117.07 311.72 118.52 311.55 119.96 311.39 121.41 311.2 122.85 310.99 124.29 310.77 125.74 310.56 127.18 310.38 128.62 310.22 130.07 310.11 131.51 310.05 132.95 309.99 134.4 309.94 135.84 309.9 137.29 309.87 138.73 309.86 140.17 309.86 141.62 309.86 143.06 309.86 144.5 309.86 145.95 309.86 147.39 309.86 148.83 309.86 150.28 309.86 151.72 309.86 153.17 309.86 154.61 309.86 156.05 309.86 157.5 309.86 158.94 309.86 160.38 309.86" fill="none" stroke="#000000" stroke-width="1" stroke-opacity="0.75"/>
<path d="M31.9 328.5 33.34 327.66 34.79 326.85 36.23 326.06 37.67 325.29 39.12 324.55 40.56 323.83 42.01 323.13 43.45 322.44 44.89 321.76 46.34 321.09 47.78 320.42 49.22 319.77 50.67 319.14 52.11 318.55 53.55 318.01 55 317.49 56.44 316.99 57.89 316.5 59.33 316 60.77 315.49 62.22 314.96 63.66 314.45 65.1 313.99 66.55 313.56 67.99 313.15 69.43 312.76 70.88 312.4 72.32 312.05 73.77 311.71 75.21 311.37 76.65 311.03 78.1 310.68 79.54 310.31 80.98 309.91 82.43 309.49 83.87 309.06 85.31 308.64 86.76 308.23 88.2 307.85 89.65 307.51 91.09 307.18 92.53 306.87 93.98 306.57 95.42 306.31 96.86 306.09 98.31 305.91 99.75 305.75 101.19 305.6 102.64 305.47 104.08 305.34 105.53 305.23 106.97 305.12 108.41 305.01 109.86 304.91 111.3 304.81 112.74 304.71 114.19 304.61 115.63 304.51 117.07 304.4 118.52 304.29 119.96 304.17 121.41 304.04 122.85 303.91 124.29 303.77 125.74 303.64 127.18 303.5 128.62 303.36 130.07 303.23 131.51 303.1 132.95 302.97 134.4 302.85 135.84 302.74 137.29 302.63 138.73 302.52 140.17 302.42 141.62 302.31 143.06 302.21 144.5 302.11 145.95 302.01 147.39 301.91 148.83 301.82 150.28 301.73 151.72 301.64 153.17 301.55 154.61 301.46 156.05 301.38 157.5 301.3 158.94 301.23 160.38 301.15" fill="none" stroke="#DF536B" stroke-width="1" stroke-opacity="0.62"/>
<path d="M31.9 328.5 33.34 325.81 34.79 323.43 36.23 321.48 37.67 319.87 39.12 318.47 40.56 317.18 42.01 315.95 43.45 314.82 44.89 313.69 46.34 312.49 47.78 311.25 49.22 310.04 50.67 308.87 52.11 307.81 53.55 306.87 55 306.01 56.44 305.18 57.89 304.36 59.33 303.5 60.77 302.55 62.22 301.54 63.66 300.62 65.1 299.9 66.55 299.32 67.99 298.82 69.43 298.41 70.88 298.05 72.32 297.72 73.77 297.43 75.21 297.15 76.65 296.88 78.1 296.61 79.54 296.33 80.98 296.03 82.43 295.74 83.87 295.45 85.31 295.17 86.76 294.9 88.2 294.65 89.65 294.43 91.09 294.23 92.53 294.03 93.98 293.85 95.42 293.69 96.86 293.53 98.31 293.38 99.75 293.24 101.19 293.11 102.64 292.98 104.08 292.86 105.53 292.74 106.97 292.63 108.41 292.51 109.86 292.4 111.3 292.29 112.74 292.18 114.19 292.08 115.63 291.97 117.07 291.86 118.52 291.74 119.96 291.63 121.41 291.5 122.85 291.35 124.29 291.2 125.74 291.05 127.18 290.9 128.62 290.76 130.07 290.64 131.51 290.54 132.95 290.46 134.4 290.42 135.84 290.42 137.29 290.42 138.73 290.42 140.17 290.42 141.62 290.42 143.06 290.42 144.5 290.42 145.95 290.42 147.39 290.42 148.83 290.42 150.28 290.42 151.72 290.42 153.17 290.42 154.61 290.42 156.05 290.42 157.5 290.42 158.94 290.42 160.38 290.42" fill="none" stroke="#61D04F" stroke-width="1" stroke-opacity="0.62"/>
<path d="M31.9 328.5 32.22 328.5 32.22 327.5 32.41 327.5 32.41 326.91 32.74 326.91 32.74 325.96 32.99 325.96 32.99 325.21 33.31 325.21 33.31 324.32 33.51 324.32 33.51 323.8 33.83 323.8 33.83 322.96 34.15 322.96 34.15 322.13 34.54 322.13 34.54 321.16 34.86 321.16 34.86 320.38 35.18 320.38 35.18 319.63 35.37 319.63 35.37 319.21 35.95 319.21 35.95 318.09 36.53 318.09 36.53 317.15 37.17 317.15 37.17 316.23 37.94 316.23 37.94 315.24 38.78 315.24 38.78 314.19 39.42 314.19 39.42 313.39 39.87 313.39 39.87 312.85 40.64 312.85 40.64 311.94 41.48 311.94 41.48 310.98 42.18 310.98 42.18 310.19 42.89 310.19 42.89 309.41 43.41 309.41 43.41 308.85 44.3 308.85 44.3 307.91 45.4 307.91 45.4 306.86 46.43 306.86 46.43 305.93 47.52 305.93 47.52 304.99 48.35 304.99 48.35 304.26 49.19 304.26 49.19 303.52 49.7 303.52 49.7 303.06 50.15 303.06 50.15 302.66 50.73 302.66 50.73 302.16 51.76 302.16 51.76 301.3 52.53 301.3 52.53 300.72 53.24 300.72 53.24 300.21 54.2 300.21 54.2 299.56 54.91 299.56 54.91 299.1 55.68 299.1 55.68 298.62 57.29 298.62 57.29 297.68 58.57 297.68 58.57 296.99 60.24 296.99 60.24 296.11 61.92 296.11 61.92 295.24 63.72 295.24 63.72 294.39 66.03 294.39 66.03 293.52 68.34 293.52 68.34 292.83 71.81 292.83 71.81 291.97 75.41 291.97 75.41 291.22 77.92 291.22 77.92 290.69 81.97 290.69 81.97 289.66 83.25 289.66 83.25 289.29 84.6 289.29 84.6 288.9 88.01 288.9 88.01 288.11 95.92 288.11 95.92 287.45 110.64 287.45 110.64 286.51 116.23 286.51 116.23 285.58 160.38 285.58" fill="none" stroke="#2297E6" stroke-width="1" stroke-opacity="0.62"/>
<path d="M31.9 328.5 37.23 328.5 37.23 327.74 43.28 327.74 43.28 326.87 50.86 326.87 50.86 325.75 58.83 325.75 58.83 324.55 64.29 324.55 64.29 323.73 68.28 323.73 68.28 323.14 74.9 323.14 74.9 322.06 79.66 322.06 79.66 321.14 83.45 321.14 83.45 320.26 86.92 320.26 86.92 319.41 91.1 319.41 91.1 318.4 94.63 318.4 94.63 317.62 98.1 317.62 98.1 316.94 102.6 316.94 102.6 316.12 107.81 316.12 107.81 315.23 112.37 315.23 112.37 314.68 117.06 314.68 117.06 313.85 118.41 313.85 118.41 312.66 119.06 312.66 119.06 311.8 119.83 311.8 119.83 311.02 122.2 311.02 122.2 309.81 123.75 309.81 123.75 309.16 126.51 309.16 126.51 308.18 128.82 308.18 128.82 307.52 133.9 307.52 133.9 306.33 138.08 306.33 138.08 305.43 140.2 305.43 140.2 305.03 143.48 305.03 143.48 304.46 147.14 304.46 147.14 303.89 151.45 303.89 151.45 303.27 157.36 303.27 157.36 302.51 160.38 302.51" fill="none" stroke="#28E2E5" stroke-width="1" stroke-opacity="0.62"/>
<path d="M31.9 328.5 33.34 328.31 34.79 328.11 36.23 327.91 37.67 327.71 39.12 327.51 40.56 327.31 42.01 327.1 43.45 326.89 44.89 326.68 46.34 326.46 47.78 326.25 49.22 326.03 50.67 325.81 52.11 325.59 53.55 325.37 55 325.15 56.44 324.92 57.89 324.7 59.33 324.47 60.77 324.24 62.22 324 63.66 323.77 65.1 323.53 66.55 323.28 67.99 323.04 69.43 322.79 70.88 322.54 72.32 322.29 73.77 322.04 75.21 321.78 76.65 321.52 78.1 321.26 79.54 320.99 80.98 320.73 82.43 320.46 83.87 320.19 85.31 319.92 86.76 319.64 88.2 319.36 89.65 319.08 91.09 318.79 92.53 318.5 93.98 318.21 95.42 317.91 96.86 317.6 98.31 317.28 99.75 316.95 101.19 316.61 102.64 316.27 104.08 315.93 105.53 315.58 106.97 315.23 108.41 314.88 109.86 314.54 111.3 314.2 112.74 313.87 114.19 313.54 115.63 313.23 117.07 312.93 118.52 312.65 119.96 312.38 121.41 312.12 122.85 311.88 124.29 311.65 125.74 311.42 127.18 311.2 128.62 310.99 130.07 310.77 131.51 310.55 132.95 310.33 134.4 310.1 135.84 309.86 137.29 309.61 138.73 309.36 140.17 309.11 141.62 308.86 143.06 308.6 144.5 308.35 145.95 308.08 147.39 307.82 148.83 307.56 150.28 307.29 151.72 307.02 153.17 306.74 154.61 306.47 156.05 306.19 157.5 305.91 158.94 305.62 160.38 305.33" fill="none" stroke="#CD0BBC" stroke-width="1" stroke-opacity="0.62"/>
<path d="M31.9 328.5 33.34 328.25 34.79 327.99 36.23 327.74 37.67 327.48 39.12 327.23 40.56 326.97 42.01 326.72 43.45 326.47 44.89 326.21 46.34 325.96 47.78 325.7 49.22 325.45 50.67 325.19 52.11 324.94 53.55 324.68 55 324.43 56.44 324.18 57.89 323.92 59.33 323.67 60.77 323.41 62.22 323.16 63.66 322.91 65.1 322.66 66.55 322.41 67.99 322.16 69.43 321.91 70.88 321.66 72.32 321.4 73.77 321.15 75.21 320.88 76.65 320.62 78.1 320.35 79.54 320.07 80.98 319.79 82.43 319.51 83.87 319.22 85.31 318.94 86.76 318.65 88.2 318.36 89.65 318.06 91.09 317.77 92.53 317.48 93.98 317.19 95.42 316.89 96.86 316.6 98.31 316.29 99.75 315.99 101.19 315.68 102.64 315.36 104.08 315.05 105.53 314.74 106.97 314.42 108.41 314.11 109.86 313.8 111.3 313.5 112.74 313.2 114.19 312.91 115.63 312.62 117.07 312.34 118.52 312.07 119.96 311.81 121.41 311.57 122.85 311.33 124.29 311.11 125.74 310.89 127.18 310.68 128.62 310.47 130.07 310.25 131.51 310.03 132.95 309.8 134.4 309.55 135.84 309.3 137.29 309.02 138.73 308.74 140.17 308.46 141.62 308.16 143.06 307.86 144.5 307.55 145.95 307.23 147.39 306.9 148.83 306.57 150.28 306.23 151.72 305.88 153.17 305.52 154.61 305.16 156.05 304.79 157.5 304.42 158.94 304.03 160.38 303.64" fill="none" stroke="#F5C710" stroke-width="1" stroke-opacity="0.7"/>
<path d="M31.9 328.5 33.34 328.26 34.79 328.03 36.23 327.79 37.67 327.55 39.12 327.31 40.56 327.07 42.01 326.83 43.45 326.59 44.89 326.35 46.34 326.11 47.78 325.87 49.22 325.62 50.67 325.38 52.11 325.13 53.55 324.89 55 324.64 56.44 324.39 57.89 324.14 59.33 323.9 60.77 323.65 62.22 323.4 63.66 323.15 65.1 322.9 66.55 322.65 67.99 322.4 69.43 322.15 70.88 321.89 72.32 321.63 73.77 321.37 75.21 321.11 76.65 320.84 78.1 320.57 79.54 320.3 80.98 320.02 82.43 319.74 83.87 319.46 85.31 319.18 86.76 318.89 88.2 318.6 89.65 318.31 91.09 318.01 92.53 317.72 93.98 317.42 95.42 317.12 96.86 316.81 98.31 316.5 99.75 316.19 101.19 315.88 102.64 315.56 104.08 315.24 105.53 314.92 106.97 314.6 108.41 314.27 109.86 313.95 111.3 313.62 112.74 313.3 114.19 312.97 115.63 312.65 117.07 312.32 118.52 312 119.96 311.68 121.41 311.36 122.85 311.05 124.29 310.74 125.74 310.43 127.18 310.12 128.62 309.81 130.07 309.49 131.51 309.17 132.95 308.84 134.4 308.51 135.84 308.17 137.29 307.82 138.73 307.46 140.17 307.11 141.62 306.74 143.06 306.38 144.5 306 145.95 305.63 147.39 305.25 148.83 304.86 150.28 304.47 151.72 304.08 153.17 303.68 154.61 303.27 156.05 302.86 157.5 302.45 158.94 302.03 160.38 301.61" fill="none" stroke="#9E9E9E" stroke-width="1" stroke-opacity="0.62"/>
<text class="cap" x="103.2" y="389" text-anchor="middle">(e)</text></g>
<g font-size="4.6"><path d="M200.4 211.4V333.4H338.8" fill="none" stroke="#727272" stroke-width="0.9"/>
<path d="M196.8 328.5H200.4M196.8 305.9H200.4M196.8 283.3H200.4M196.8 260.7H200.4M196.8 238.1H200.4M196.8 215.5H200.4M205.3 333.4V337M223.3 333.4V337M241.3 333.4V337M259.3 333.4V337M277.3 333.4V337M295.3 333.4V337M313.3 333.4V337M331.3 333.4V337" fill="none" stroke="#727272" stroke-width="0.8"/>
<text x="205.3" y="343.96" text-anchor="middle">0</text>
<text x="223.3" y="343.96" text-anchor="middle">20</text>
<text x="241.3" y="343.96" text-anchor="middle">40</text>
<text x="259.3" y="343.96" text-anchor="middle">60</text>
<text x="277.3" y="343.96" text-anchor="middle">80</text>
<text x="295.3" y="343.96" text-anchor="middle">100</text>
<text x="313.3" y="343.96" text-anchor="middle">120</text>
<text x="331.3" y="343.96" text-anchor="middle">140</text>
<text transform="translate(193.56 328.5) rotate(-90)" text-anchor="middle">0.0</text>
<text transform="translate(193.56 305.9) rotate(-90)" text-anchor="middle">0.2</text>
<text transform="translate(193.56 283.3) rotate(-90)" text-anchor="middle">0.4</text>
<text transform="translate(193.56 260.7) rotate(-90)" text-anchor="middle">0.6</text>
<text transform="translate(193.56 238.1) rotate(-90)" text-anchor="middle">0.8</text>
<text transform="translate(193.56 215.5) rotate(-90)" text-anchor="middle">1.0</text>
<text x="269.6" y="354.56" text-anchor="middle">Month</text>
<text transform="translate(182.66 272.4) rotate(-90)" text-anchor="middle">CIF</text>
<path d="M208.8 226H216.4" stroke="#000000" stroke-width="1" stroke-opacity="0.75"/>
<text x="219.2" y="228.16">T1 1</text>
<path d="M208.8 236.28H216.4" stroke="#DF536B" stroke-width="1" stroke-opacity="0.62"/>
<text x="219.2" y="238.44">T2 1</text>
<path d="M208.8 246.56H216.4" stroke="#61D04F" stroke-width="1" stroke-opacity="0.62"/>
<text x="219.2" y="248.72">T3 1</text>
<path d="M208.8 256.84H216.4" stroke="#2297E6" stroke-width="1" stroke-opacity="0.62"/>
<text x="219.2" y="259">T4 1</text>
<path d="M208.8 267.12H216.4" stroke="#28E2E5" stroke-width="1" stroke-opacity="0.62"/>
<text x="219.2" y="269.28">T1 2</text>
<path d="M208.8 277.4H216.4" stroke="#CD0BBC" stroke-width="1" stroke-opacity="0.62"/>
<text x="219.2" y="279.56">T2 2</text>
<path d="M208.8 287.68H216.4" stroke="#F5C710" stroke-width="1" stroke-opacity="0.7"/>
<text x="219.2" y="289.84">T3 2</text>
<path d="M208.8 297.96H216.4" stroke="#9E9E9E" stroke-width="1" stroke-opacity="0.62"/>
<text x="219.2" y="300.12">T4 2</text>
<path d="M205.3 328.5 206.74 328.36 208.19 328.22 209.63 328.08 211.07 327.95 212.52 327.82 213.96 327.69 215.4 327.56 216.84 327.43 218.29 327.31 219.73 327.19 221.17 327.08 222.62 326.97 224.06 326.86 225.5 326.76 226.95 326.66 228.39 326.57 229.83 326.48 231.27 326.39 232.72 326.31 234.16 326.22 235.6 326.14 237.05 326.05 238.49 325.97 239.93 325.88 241.38 325.79 242.82 325.7 244.26 325.6 245.7 325.5 247.15 325.39 248.59 325.27 250.03 325.15 251.48 325.03 252.92 324.9 254.36 324.76 255.81 324.63 257.25 324.49 258.69 324.35 260.14 324.22 261.58 324.08 263.02 323.95 264.46 323.82 265.91 323.7 267.35 323.58 268.79 323.47 270.24 323.36 271.68 323.25 273.12 323.14 274.57 323.04 276.01 322.94 277.45 322.83 278.89 322.73 280.34 322.63 281.78 322.53 283.22 322.44 284.67 322.34 286.11 322.25 287.55 322.16 289 322.07 290.44 321.98 291.88 321.89 293.33 321.8 294.77 321.72 296.21 321.64 297.65 321.55 299.1 321.46 300.54 321.38 301.98 321.29 303.43 321.21 304.87 321.12 306.31 321.04 307.76 320.96 309.2 320.88 310.64 320.8 312.08 320.73 313.53 320.66 314.97 320.6 316.41 320.54 317.86 320.48 319.3 320.43 320.74 320.39 322.19 320.35 323.63 320.31 325.07 320.28 326.51 320.25 327.96 320.22 329.4 320.19 330.84 320.17 332.29 320.15 333.73 320.14" fill="none" stroke="#000000" stroke-width="1" stroke-opacity="0.75"/>
<path d="M205.3 328.5 206.74 328.3 208.19 328.1 209.63 327.9 211.07 327.7 212.52 327.5 213.96 327.3 215.4 327.1 216.84 326.9 218.29 326.7 219.73 326.51 221.17 326.31 222.62 326.11 224.06 325.91 225.5 325.71 226.95 325.52 228.39 325.32 229.83 325.13 231.27 324.93 232.72 324.74 234.16 324.55 235.6 324.35 237.05 324.15 238.49 323.96 239.93 323.76 241.38 323.56 242.82 323.36 244.26 323.15 245.7 322.94 247.15 322.73 248.59 322.5 250.03 322.27 251.48 322.02 252.92 321.77 254.36 321.51 255.81 321.26 257.25 321.01 258.69 320.76 260.14 320.52 261.58 320.29 263.02 320.07 264.46 319.87 265.91 319.69 267.35 319.53 268.79 319.39 270.24 319.26 271.68 319.13 273.12 319.01 274.57 318.9 276.01 318.79 277.45 318.68 278.89 318.58 280.34 318.49 281.78 318.4 283.22 318.31 284.67 318.22 286.11 318.13 287.55 318.05 289 317.97 290.44 317.89 291.88 317.81 293.33 317.73 294.77 317.65 296.21 317.57 297.65 317.49 299.1 317.42 300.54 317.34 301.98 317.27 303.43 317.19 304.87 317.12 306.31 317.05 307.76 316.98 309.2 316.91 310.64 316.84 312.08 316.78 313.53 316.72 314.97 316.66 316.41 316.6 317.86 316.54 319.3 316.49 320.74 316.44 322.19 316.39 323.63 316.34 325.07 316.3 326.51 316.25 327.96 316.21 329.4 316.17 330.84 316.14 332.29 316.1 333.73 316.07" fill="none" stroke="#DF536B" stroke-width="1" stroke-opacity="0.62"/>
<path d="M205.3 328.5 206.74 327.63 208.19 326.77 209.63 325.92 211.07 325.08 212.52 324.24 213.96 323.41 215.4 322.59 216.84 321.76 218.29 320.94 219.73 320.13 221.17 319.34 222.62 318.58 224.06 317.86 225.5 317.17 226.95 316.49 228.39 315.83 229.83 315.19 231.27 314.58 232.72 313.99 234.16 313.43 235.6 312.88 237.05 312.34 238.49 311.82 239.93 311.32 241.38 310.86 242.82 310.43 244.26 310.05 245.7 309.7 247.15 309.37 248.59 309.06 250.03 308.77 251.48 308.49 252.92 308.2 254.36 307.91 255.81 307.61 257.25 307.28 258.69 306.93 260.14 306.54 261.58 306.12 263.02 305.69 264.46 305.26 265.91 304.85 267.35 304.47 268.79 304.15 270.24 303.85 271.68 303.55 273.12 303.27 274.57 303 276.01 302.75 277.45 302.51 278.89 302.29 280.34 302.08 281.78 301.89 283.22 301.71 284.67 301.54 286.11 301.37 287.55 301.22 289 301.07 290.44 300.93 291.88 300.81 293.33 300.69 294.77 300.59 296.21 300.5 297.65 300.41 299.1 300.33 300.54 300.26 301.98 300.19 303.43 300.12 304.87 300.06 306.31 299.99 307.76 299.93 309.2 299.86 310.64 299.8 312.08 299.74 313.53 299.67 314.97 299.61 316.41 299.55 317.86 299.49 319.3 299.43 320.74 299.37 322.19 299.31 323.63 299.26 325.07 299.2 326.51 299.15 327.96 299.09 329.4 299.04 330.84 298.99 332.29 298.94 333.73 298.89" fill="none" stroke="#61D04F" stroke-width="1" stroke-opacity="0.62"/>
<path d="M205.3 328.5 205.56 328.5 205.56 327.97 206.01 327.97 206.01 327.05 206.46 327.05 206.46 326.13 206.84 326.13 206.84 325.35 207.29 325.35 207.29 324.43 207.55 324.43 207.55 323.91 207.74 323.91 207.74 323.51 208 323.51 208 322.99 208.38 322.99 208.38 322.2 208.77 322.2 208.77 321.42 209.09 321.42 209.09 320.77 209.35 320.77 209.35 320.24 209.6 320.24 209.6 319.7 209.86 319.7 209.86 319.17 210.25 319.17 210.25 318.36 210.63 318.36 210.63 317.55 210.95 317.55 210.95 316.88 211.21 316.88 211.21 316.34 211.47 316.34 211.47 315.8 211.92 315.8 211.92 314.88 212.17 314.88 212.17 314.36 212.62 314.36 212.62 313.46 212.82 313.46 212.82 313.09 213.27 313.09 213.27 312.23 213.72 312.23 213.72 311.4 213.97 311.4 213.97 310.94 214.29 310.94 214.29 310.38 214.55 310.38 214.55 309.92 214.87 309.92 214.87 309.36 215.39 309.36 215.39 308.48 215.64 308.48 215.64 308.05 215.97 308.05 215.97 307.52 216.41 307.52 216.41 306.79 216.86 306.79 216.86 306.08 217.31 306.08 217.31 305.39 217.57 305.39 217.57 305 217.96 305 217.96 304.45 218.6 304.45 218.6 303.56 219.31 303.56 219.31 302.65 219.82 302.65 219.82 302.03 220.27 302.03 220.27 301.5 220.72 301.5 220.72 301 221.17 301 221.17 300.5 221.62 300.5 221.62 300.02 222.45 300.02 222.45 299.14 223.22 299.14 223.22 298.35 223.93 298.35 223.93 297.62 224.7 297.62 224.7 296.84 225.28 296.84 225.28 296.28 226.05 296.28 226.05 295.53 226.57 295.53 226.57 295.05 226.95 295.05 226.95 294.68 227.72 294.68 227.72 293.96 228.17 293.96 228.17 293.54 228.62 293.54 228.62 293.12 229.07 293.12 229.07 292.7 230.04 292.7 230.04 291.79 230.55 291.79 230.55 291.3 231.38 291.3 231.38 290.53 232.35 290.53 232.35 289.66 232.8 289.66 232.8 289.28 233.31 289.28 233.31 288.85 234.02 288.85 234.02 288.29 234.73 288.29 234.73 287.74 235.56 287.74 235.56 287.12 236.52 287.12 236.52 286.43 237.74 286.43 237.74 285.63 238.77 285.63 238.77 285.02 240.12 285.02 240.12 284.36 241.86 284.36 241.86 283.57 243.59 283.57 243.59 282.66 244.11 282.66 244.11 282.3 245.26 282.3 245.26 281.44 246.48 281.44 246.48 280.75 247.96 280.75 247.96 280.19 249.5 280.19 249.5 279.7 251.94 279.7 251.94 279.05 253.94 279.05 253.94 278.59 257.28 278.59 257.28 277.81 259.65 277.81 259.65 277.16 260.94 277.16 260.94 276.8 262.03 276.8 262.03 276.48 265.05 276.48 265.05 275.63 267.81 275.63 267.81 274.88 270.32 274.88 270.32 274.22 273.08 274.22 273.08 273.49 274.75 273.49 274.75 273.06 276.74 273.06 276.74 272.58 280.47 272.58 280.47 271.81 285.8 271.81 285.8 271.04 292.61 271.04 292.61 270.3 300.26 270.3 300.26 269.54 304.63 269.54 304.63 269.14 314.2 269.14 314.2 268.37 319.02 268.37 319.02 268.02 326.41 268.02 326.41 267.43 332.7 267.43 332.7 266.89 333.73 266.89" fill="none" stroke="#2297E6" stroke-width="1" stroke-opacity="0.62"/>
<path d="M205.3 328.5 206.74 328.34 208.19 328.17 209.63 328 211.07 327.83 212.52 327.66 213.96 327.48 215.4 327.31 216.84 327.13 218.29 326.95 219.73 326.76 221.17 326.58 222.62 326.39 224.06 326.21 225.5 326.02 226.95 325.83 228.39 325.64 229.83 325.44 231.27 325.25 232.72 325.05 234.16 324.86 235.6 324.66 237.05 324.46 238.49 324.25 239.93 324.05 241.38 323.84 242.82 323.62 244.26 323.4 245.7 323.18 247.15 322.95 248.59 322.71 250.03 322.48 251.48 322.24 252.92 322 254.36 321.75 255.81 321.5 257.25 321.25 258.69 320.99 260.14 320.72 261.58 320.44 263.02 320.16 264.46 319.87 265.91 319.58 267.35 319.27 268.79 318.95 270.24 318.61 271.68 318.25 273.12 317.86 274.57 317.46 276.01 317.05 277.45 316.63 278.89 316.2 280.34 315.76 281.78 315.32 283.22 314.88 284.67 314.44 286.11 314 287.55 313.58 289 313.16 290.44 312.76 291.88 312.37 293.33 312.01 294.77 311.66 296.21 311.34 297.65 311.03 299.1 310.75 300.54 310.47 301.98 310.21 303.43 309.96 304.87 309.71 306.31 309.46 307.76 309.22 309.2 308.97 310.64 308.72 312.08 308.46 313.53 308.19 314.97 307.9 316.41 307.6 317.86 307.28 319.3 306.94 320.74 306.58 322.19 306.18 323.63 305.73 325.07 305.24 326.51 304.7 327.96 304.12 329.4 303.52 330.84 302.9 332.29 302.25 333.73 301.61" fill="none" stroke="#28E2E5" stroke-width="1" stroke-opacity="0.62"/>
<path d="M205.3 328.5 206.74 328.34 208.17 328.17 209.61 327.99 211.04 327.81 212.48 327.62 213.92 327.43 215.35 327.23 216.79 327.03 218.22 326.82 219.66 326.6 221.1 326.38 222.53 326.16 223.97 325.93 225.4 325.7 226.84 325.47 228.28 325.23 229.71 324.99 231.15 324.74 232.58 324.5 234.02 324.24 235.46 323.98 236.89 323.71 238.33 323.42 239.76 323.13 241.2 322.84 242.63 322.53 244.07 322.22 245.51 321.91 246.94 321.58 248.38 321.25 249.81 320.9 251.25 320.55 252.69 320.19 254.12 319.82 255.56 319.44 256.99 319.06 258.43 318.67 259.87 318.28 261.3 317.89 262.74 317.5 264.17 317.11 265.61 316.72 267.05 316.33 268.48 315.95 269.92 315.56 271.35 315.17 272.79 314.78 274.23 314.38 275.66 313.99 277.1 313.59 278.53 313.2 279.97 312.82 281.41 312.44 282.84 312.07 284.28 311.7 285.71 311.33 287.15 310.97 288.59 310.61 290.02 310.25 291.46 309.89 292.89 309.53 294.33 309.17 295.77 308.8 297.2 308.42 298.64 308.02 300.07 307.62 301.51 307.23 302.94 306.85 304.38 306.48 305.82 306.15 307.25 305.84 308.69 305.58 310.12 305.33 311.56 305.08 313 304.85 314.43 304.62 315.87 304.42 317.3 304.23 318.74 304.08 320.18 303.95 321.61 303.86 323.05 303.81 324.48 303.78 325.92 303.75 327.36 303.71 328.79 303.62 330.23 302.98 331.66 301.73 333.1 300.25" fill="none" stroke="#CD0BBC" stroke-width="1" stroke-opacity="0.62"/>
<path d="M205.3 328.5 206.74 328.3 208.19 328.1 209.63 327.9 211.07 327.7 212.52 327.49 213.96 327.28 215.4 327.08 216.84 326.87 218.29 326.66 219.73 326.44 221.17 326.23 222.62 326.02 224.06 325.8 225.5 325.58 226.95 325.36 228.39 325.14 229.83 324.92 231.27 324.7 232.72 324.48 234.16 324.26 235.6 324.04 237.05 323.83 238.49 323.61 239.93 323.38 241.38 323.15 242.82 322.92 244.26 322.67 245.7 322.41 247.15 322.13 248.59 321.83 250.03 321.52 251.48 321.19 252.92 320.84 254.36 320.49 255.81 320.12 257.25 319.75 258.69 319.38 260.14 319 261.58 318.62 263.02 318.24 264.46 317.87 265.91 317.5 267.35 317.14 268.79 316.79 270.24 316.43 271.68 316.07 273.12 315.71 274.57 315.35 276.01 314.99 277.45 314.62 278.89 314.26 280.34 313.9 281.78 313.54 283.22 313.18 284.67 312.83 286.11 312.48 287.55 312.14 289 311.8 290.44 311.47 291.88 311.15 293.33 310.83 294.77 310.53 296.21 310.23 297.65 309.92 299.1 309.61 300.54 309.3 301.98 308.98 303.43 308.67 304.87 308.36 306.31 308.06 307.76 307.76 309.2 307.48 310.64 307.2 312.08 306.94 313.53 306.69 314.97 306.46 316.41 306.25 317.86 306.06 319.3 305.89 320.74 305.75 322.19 305.63 323.63 305.51 325.07 305.41 326.51 305.31 327.96 305.22 329.4 305.14 330.84 305.08 332.29 305.03 333.73 305" fill="none" stroke="#F5C710" stroke-width="1" stroke-opacity="0.7"/>
<path d="M205.3 328.5 206.74 328.31 208.19 328.13 209.63 327.95 211.07 327.76 212.52 327.58 213.96 327.4 215.4 327.21 216.84 327.03 218.29 326.85 219.73 326.67 221.17 326.49 222.62 326.31 224.06 326.13 225.5 325.95 226.95 325.77 228.39 325.59 229.83 325.41 231.27 325.24 232.72 325.06 234.16 324.89 235.6 324.72 237.05 324.55 238.49 324.39 239.93 324.22 241.38 324.05 242.82 323.88 244.26 323.69 245.7 323.5 247.15 323.3 248.59 323.08 250.03 322.86 251.48 322.62 252.92 322.38 254.36 322.13 255.81 321.87 257.25 321.61 258.69 321.35 260.14 321.08 261.58 320.82 263.02 320.56 264.46 320.3 265.91 320.05 267.35 319.8 268.79 319.56 270.24 319.31 271.68 319.07 273.12 318.82 274.57 318.57 276.01 318.32 277.45 318.06 278.89 317.81 280.34 317.57 281.78 317.32 283.22 317.08 284.67 316.84 286.11 316.61 287.55 316.39 289 316.17 290.44 315.96 291.88 315.76 293.33 315.57 294.77 315.39 296.21 315.22 297.65 315.04 299.1 314.87 300.54 314.69 301.98 314.52 303.43 314.35 304.87 314.18 306.31 314.02 307.76 313.87 309.2 313.72 310.64 313.57 312.08 313.44 313.53 313.31 314.97 313.19 316.41 313.08 317.86 312.99 319.3 312.9 320.74 312.83 322.19 312.77 323.63 312.71 325.07 312.66 326.51 312.61 327.96 312.56 329.4 312.52 330.84 312.49 332.29 312.47 333.73 312.45" fill="none" stroke="#9E9E9E" stroke-width="1" stroke-opacity="0.62"/>
<text class="cap" x="267.9" y="389" text-anchor="middle">(f)</text></g>
<g font-size="5.55"><path d="M378.5 215.6V327.6H510.6" fill="none" stroke="#727272" stroke-width="0.9"/>
<path d="M375.2 323.4H378.5M375.2 302.66H378.5M375.2 281.92H378.5M375.2 261.18H378.5M375.2 240.44H378.5M375.2 219.7H378.5M383.4 327.6V330.9M400.4 327.6V330.9M417.4 327.6V330.9M434.4 327.6V330.9M451.4 327.6V330.9M468.4 327.6V330.9M485.4 327.6V330.9M502.4 327.6V330.9" fill="none" stroke="#727272" stroke-width="0.8"/>
<text x="383.4" y="339.6" text-anchor="middle">0</text>
<text x="400.4" y="339.6" text-anchor="middle">20</text>
<text x="417.4" y="339.6" text-anchor="middle">40</text>
<text x="434.4" y="339.6" text-anchor="middle">60</text>
<text x="451.4" y="339.6" text-anchor="middle">80</text>
<text x="468.4" y="339.6" text-anchor="middle">100</text>
<text x="485.4" y="339.6" text-anchor="middle">120</text>
<text x="502.4" y="339.6" text-anchor="middle">140</text>
<text transform="translate(370.5 323.4) rotate(-90)" text-anchor="middle">0.0</text>
<text transform="translate(370.5 302.66) rotate(-90)" text-anchor="middle">0.2</text>
<text transform="translate(370.5 281.92) rotate(-90)" text-anchor="middle">0.4</text>
<text transform="translate(370.5 261.18) rotate(-90)" text-anchor="middle">0.6</text>
<text transform="translate(370.5 240.44) rotate(-90)" text-anchor="middle">0.8</text>
<text transform="translate(370.5 219.7) rotate(-90)" text-anchor="middle">1.0</text>
<text x="444.55" y="352.9" text-anchor="middle">Month</text>
<text transform="translate(357.1 271.6) rotate(-90)" text-anchor="middle">CIF</text>
<path d="M386.5 229.1H393.5" stroke="#000000" stroke-width="1" stroke-opacity="0.75"/>
<text x="396.8" y="231.6">N0 1</text>
<path d="M386.5 238.52H393.5" stroke="#DF536B" stroke-width="1" stroke-opacity="0.62"/>
<text x="396.8" y="241.02">N1 1</text>
<path d="M386.5 247.94H393.5" stroke="#61D04F" stroke-width="1" stroke-opacity="0.62"/>
<text x="396.8" y="250.44">N2 1</text>
<path d="M386.5 257.36H393.5" stroke="#2297E6" stroke-width="1" stroke-opacity="0.62"/>
<text x="396.8" y="259.86">N0 2</text>
<path d="M386.5 266.78H393.5" stroke="#28E2E5" stroke-width="1" stroke-opacity="0.62"/>
<text x="396.8" y="269.28">N1 2</text>
<path d="M386.5 276.2H393.5" stroke="#CD0BBC" stroke-width="1" stroke-opacity="0.62"/>
<text x="396.8" y="278.7">N2 2</text>
<path d="M383.4 323.4 384.77 322.94 386.14 322.49 387.51 322.05 388.88 321.61 390.25 321.18 391.62 320.75 392.99 320.32 394.36 319.9 395.73 319.47 397.1 319.05 398.47 318.65 399.83 318.29 401.2 317.97 402.57 317.68 403.94 317.4 405.31 317.13 406.68 316.85 408.05 316.57 409.42 316.3 410.79 316.06 412.16 315.84 413.53 315.64 414.9 315.47 416.27 315.3 417.64 315.13 419.01 314.97 420.38 314.78 421.75 314.59 423.12 314.38 424.49 314.16 425.86 313.94 427.23 313.71 428.6 313.48 429.96 313.24 431.33 313 432.7 312.76 434.07 312.53 435.44 312.3 436.81 312.07 438.18 311.83 439.55 311.59 440.92 311.34 442.29 311.1 443.66 310.85 445.03 310.62 446.4 310.39 447.77 310.18 449.14 309.98 450.51 309.8 451.88 309.62 453.25 309.44 454.62 309.26 455.99 309.1 457.36 308.94 458.73 308.79 460.09 308.65 461.46 308.53 462.83 308.42 464.2 308.33 465.57 308.24 466.94 308.16 468.31 308.08 469.68 308.01 471.05 307.94 472.42 307.87 473.79 307.81 475.16 307.75 476.53 307.7 477.9 307.65 479.27 307.61 480.64 307.57 482.01 307.54 483.38 307.51 484.75 307.48 486.12 307.46 487.49 307.43 488.86 307.4 490.22 307.38 491.59 307.35 492.96 307.33 494.33 307.31 495.7 307.29 497.07 307.27 498.44 307.26 499.81 307.25 501.18 307.24 502.55 307.23 503.92 307.22 505.29 307.22" fill="none" stroke="#000000" stroke-width="1" stroke-opacity="0.75"/>
<path d="M383.4 323.4 384.77 321.66 386.14 320.07 387.51 318.68 388.88 317.52 390.25 316.55 391.62 315.65 392.99 314.74 394.36 313.71 395.73 312.57 397.1 311.39 398.47 310.23 399.83 309.19 401.2 308.27 402.57 307.41 403.94 306.59 405.31 305.81 406.68 305.06 408.05 304.31 409.42 303.56 410.79 302.81 412.16 302.08 413.53 301.38 414.9 300.72 416.27 300.11 417.64 299.56 419.01 299.03 420.38 298.54 421.75 298.07 423.12 297.62 424.49 297.18 425.86 296.76 427.23 296.37 428.6 295.99 429.96 295.61 431.33 295.24 432.7 294.88 434.07 294.53 435.44 294.19 436.81 293.86 438.18 293.52 439.55 293.18 440.92 292.85 442.29 292.52 443.66 292.2 445.03 291.89 446.4 291.61 447.77 291.35 449.14 291.12 450.51 290.92 451.88 290.73 453.25 290.56 454.62 290.4 455.99 290.26 457.36 290.11 458.73 289.98 460.09 289.84 461.46 289.71 462.83 289.57 464.2 289.43 465.57 289.29 466.94 289.15 468.31 289.01 469.68 288.87 471.05 288.74 472.42 288.6 473.79 288.47 475.16 288.34 476.53 288.22 477.9 288.09 479.27 287.97 480.64 287.86 482.01 287.75 483.38 287.65 484.75 287.55 486.12 287.45 487.49 287.35 488.86 287.25 490.22 287.15 491.59 287.06 492.96 286.97 494.33 286.88 495.7 286.8 497.07 286.71 498.44 286.63 499.81 286.55 501.18 286.48 502.55 286.41 503.92 286.34 505.29 286.28" fill="none" stroke="#DF536B" stroke-width="1" stroke-opacity="0.62"/>
<path d="M383.4 323.4 383.7 323.4 383.7 322.51 383.89 322.51 383.89 321.99 384.25 321.99 384.25 320.97 384.56 320.97 384.56 320.14 384.86 320.14 384.86 319.33 385.11 319.33 385.11 318.69 385.29 318.69 385.29 318.23 385.47 318.23 385.47 317.77 385.78 317.77 385.78 317.02 386.14 317.02 386.14 316.15 386.45 316.15 386.45 315.45 386.75 315.45 386.75 314.77 386.94 314.77 386.94 314.38 387.24 314.38 387.24 313.73 387.73 313.73 387.73 312.75 388.1 312.75 388.1 312.05 388.46 312.05 388.46 311.39 388.95 311.39 388.95 310.57 389.19 310.57 389.19 310.17 389.74 310.17 389.74 309.32 389.99 309.32 389.99 308.95 390.6 308.95 390.6 308.04 390.9 308.04 390.9 307.58 391.45 307.58 391.45 306.77 392 306.77 392 305.98 392.49 305.98 392.49 305.3 393.03 305.3 393.03 304.55 393.4 304.55 393.4 304.07 393.7 304.07 393.7 303.68 394.31 303.68 394.31 302.93 395.11 302.93 395.11 302.04 395.53 302.04 395.53 301.56 396.33 301.56 396.33 300.67 397.06 300.67 397.06 299.78 397.67 299.78 397.67 299.01 398.28 299.01 398.28 298.21 398.64 298.21 398.64 297.73 398.95 297.73 398.95 297.33 399.62 297.33 399.62 296.47 400.05 296.47 400.05 295.94 400.78 295.94 400.78 295.08 401.33 295.08 401.33 294.46 401.69 294.46 401.69 294.05 402.3 294.05 402.3 293.37 402.73 293.37 402.73 292.89 403.4 292.89 403.4 292.09 404.07 292.09 404.07 291.24 404.74 291.24 404.74 290.26 405.11 290.26 405.11 289.66 405.53 289.66 405.53 288.94 405.96 288.94 405.96 288.21 406.2 288.21 406.2 287.81 406.63 287.81 406.63 287.14 407.3 287.14 407.3 286.25 407.85 286.25 407.85 285.67 408.7 285.67 408.7 284.87 409.8 284.87 409.8 283.97 410.35 283.97 410.35 283.56 411.33 283.56 411.33 282.85 412.49 282.85 412.49 281.99 413.46 281.99 413.46 281.25 414.62 281.25 414.62 280.41 415.84 280.41 415.84 279.57 416.51 279.57 416.51 279.14 417.12 279.14 417.12 278.75 418.1 278.75 418.1 278.12 418.83 278.12 418.83 277.67 419.44 277.67 419.44 277.32 420.78 277.32 420.78 276.64 423.46 276.64 423.46 275.78 426.75 275.78 426.75 274.92 428.95 274.92 428.95 274.24 431.27 274.24 431.27 273.59 434.74 273.59 434.74 272.71 437.97 272.71 437.97 271.81 440.66 271.81 440.66 270.95 442.12 270.95 442.12 270.46 443.83 270.46 443.83 269.91 446.02 269.91 446.02 269.26 447.79 269.26 447.79 268.81 450.11 268.81 450.11 268.36 452.73 268.36 452.73 267.97 458.34 267.97 458.34 267.3 462.24 267.3 462.24 266.92 465.66 266.92 465.66 266.58 471.2 266.58 471.2 266.06 478.09 266.06 478.09 265.5 493.16 265.5 493.16 264.68 505.29 264.68" fill="none" stroke="#61D04F" stroke-width="1" stroke-opacity="0.62"/>
<path d="M383.4 323.4 384.77 323.02 386.14 322.64 387.51 322.28 388.88 321.94 390.25 321.61 391.62 321.29 392.99 320.99 394.36 320.71 395.73 320.44 397.1 320.19 398.47 319.96 399.83 319.75 401.2 319.57 402.57 319.4 403.94 319.26 405.31 319.12 406.68 318.98 408.05 318.84 409.42 318.69 410.79 318.52 412.16 318.33 413.53 318.11 414.9 317.86 416.27 317.6 417.64 317.33 419.01 317.05 420.38 316.79 421.75 316.53 423.12 316.28 424.49 316.03 425.86 315.78 427.23 315.54 428.6 315.29 429.96 315.03 431.33 314.78 432.7 314.52 434.07 314.25 435.44 313.98 436.81 313.69 438.18 313.41 439.55 313.11 440.92 312.82 442.29 312.51 443.66 312.2 445.03 311.88 446.4 311.55 447.77 311.22 449.14 310.87 450.51 310.51 451.88 310.13 453.25 309.73 454.62 309.31 455.99 308.88 457.36 308.45 458.73 308.03 460.09 307.61 461.46 307.2 462.83 306.82 464.2 306.45 465.57 306.1 466.94 305.76 468.31 305.43 469.68 305.11 471.05 304.79 472.42 304.47 473.79 304.16 475.16 303.85 476.53 303.55 477.9 303.24 479.27 302.94 480.64 302.63 482.01 302.32 483.38 302.01 484.75 301.7 486.12 301.39 487.49 301.08 488.86 300.77 490.22 300.47 491.59 300.16 492.96 299.86 494.33 299.55 495.7 299.25 497.07 298.95 498.44 298.65 499.81 298.35 501.18 298.05 502.55 297.76 503.92 297.46 505.29 297.16" fill="none" stroke="#2297E6" stroke-width="1" stroke-opacity="0.62"/>
<path d="M383.4 323.4 384.77 323.21 386.14 323.01 387.51 322.82 388.88 322.63 390.25 322.44 391.62 322.24 392.99 322.05 394.36 321.86 395.73 321.67 397.1 321.48 398.47 321.29 399.83 321.1 401.2 320.91 402.57 320.73 403.94 320.54 405.31 320.36 406.68 320.18 408.05 320 409.42 319.81 410.79 319.63 412.16 319.45 413.53 319.26 414.9 319.08 416.27 318.89 417.64 318.7 419.01 318.51 420.38 318.31 421.75 318.11 423.12 317.91 424.49 317.7 425.86 317.49 427.23 317.28 428.6 317.06 429.96 316.85 431.33 316.64 432.7 316.43 434.07 316.22 435.44 316.02 436.81 315.82 438.18 315.63 439.55 315.45 440.92 315.27 442.29 315.09 443.66 314.91 445.03 314.73 446.4 314.54 447.77 314.35 449.14 314.14 450.51 313.92 451.88 313.69 453.25 313.44 454.62 313.18 455.99 312.91 457.36 312.64 458.73 312.38 460.09 312.11 461.46 311.86 462.83 311.61 464.2 311.38 465.57 311.16 466.94 310.96 468.31 310.76 469.68 310.57 471.05 310.38 472.42 310.19 473.79 310 475.16 309.81 476.53 309.61 477.9 309.41 479.27 309.19 480.64 308.97 482.01 308.73 483.38 308.45 484.75 308.09 486.12 307.69 487.49 307.33 488.86 307.05 490.22 306.92 491.59 306.91 492.96 306.91 494.33 306.91 495.7 306.91 497.07 306.91 498.44 306.91 499.81 306.91 501.18 306.91 502.55 306.91 503.92 306.91 505.29 306.91" fill="none" stroke="#28E2E5" stroke-width="1" stroke-opacity="0.62"/>
<path d="M383.4 323.4 384.77 323.02 386.14 322.66 387.51 322.31 388.88 321.97 390.25 321.65 391.62 321.35 392.99 321.07 394.36 320.8 395.73 320.56 397.1 320.34 398.47 320.14 399.83 319.96 401.2 319.81 402.57 319.67 403.94 319.54 405.31 319.43 406.68 319.32 408.05 319.21 409.42 319.11 410.79 319 412.16 318.89 413.53 318.79 414.9 318.69 416.27 318.59 417.64 318.49 419.01 318.38 420.38 318.27 421.75 318.15 423.12 318.03 424.49 317.89 425.86 317.75 427.23 317.61 428.6 317.46 429.96 317.31 431.33 317.16 432.7 317.01 434.07 316.86 435.44 316.72 436.81 316.58 438.18 316.44 439.55 316.3 440.92 316.17 442.29 316.03 443.66 315.9 445.03 315.76 446.4 315.63 447.77 315.49 449.14 315.36 450.51 315.22 451.88 315.09 453.25 314.94 454.62 314.8 455.99 314.66 457.36 314.53 458.73 314.39 460.09 314.26 461.46 314.14 462.83 314.03 464.2 313.92 465.57 313.82 466.94 313.73 468.31 313.63 469.68 313.54 471.05 313.46 472.42 313.37 473.79 313.29 475.16 313.21 476.53 313.14 477.9 313.06 479.27 312.99 480.64 312.91 482.01 312.84 483.38 312.78 484.75 312.74 486.12 312.69 487.49 312.63 488.86 312.5 490.22 311.16 491.59 311.06 492.96 311.06 494.33 311.06 495.7 311.06 497.07 311.06 498.44 311.06 499.81 311.06 501.18 311.06 502.55 311.06 503.92 311.06 505.29 311.06" fill="none" stroke="#CD0BBC" stroke-width="1" stroke-opacity="0.62"/>
<text class="cap" x="445.6" y="389" text-anchor="middle">(g)</text></g>
<g font-size="5.55"><path d="M551.7 215.6V327.6H683.7" fill="none" stroke="#727272" stroke-width="0.9"/>
<path d="M548.4 323.4H551.7M548.4 302.66H551.7M548.4 281.92H551.7M548.4 261.18H551.7M548.4 240.44H551.7M548.4 219.7H551.7M556.8 327.6V330.9M573.87 327.6V330.9M590.94 327.6V330.9M608.01 327.6V330.9M625.09 327.6V330.9M642.16 327.6V330.9M659.23 327.6V330.9M676.3 327.6V330.9" fill="none" stroke="#727272" stroke-width="0.8"/>
<text x="556.8" y="339.6" text-anchor="middle">0</text>
<text x="573.87" y="339.6" text-anchor="middle">20</text>
<text x="590.94" y="339.6" text-anchor="middle">40</text>
<text x="608.01" y="339.6" text-anchor="middle">60</text>
<text x="625.09" y="339.6" text-anchor="middle">80</text>
<text x="642.16" y="339.6" text-anchor="middle">100</text>
<text x="659.23" y="339.6" text-anchor="middle">120</text>
<text x="676.3" y="339.6" text-anchor="middle">140</text>
<text transform="translate(543.7 323.4) rotate(-90)" text-anchor="middle">0.0</text>
<text transform="translate(543.7 302.66) rotate(-90)" text-anchor="middle">0.2</text>
<text transform="translate(543.7 281.92) rotate(-90)" text-anchor="middle">0.4</text>
<text transform="translate(543.7 261.18) rotate(-90)" text-anchor="middle">0.6</text>
<text transform="translate(543.7 240.44) rotate(-90)" text-anchor="middle">0.8</text>
<text transform="translate(543.7 219.7) rotate(-90)" text-anchor="middle">1.0</text>
<text x="617.7" y="352.9" text-anchor="middle">Month</text>
<text transform="translate(530.3 271.6) rotate(-90)" text-anchor="middle">CIF</text>
<path d="M559.7 229.1H566.7" stroke="#000000" stroke-width="1" stroke-opacity="0.75"/>
<text x="570" y="231.6">No 1</text>
<path d="M559.7 238.52H566.7" stroke="#DF536B" stroke-width="1" stroke-opacity="0.62"/>
<text x="570" y="241.02">Yes 1</text>
<path d="M559.7 247.94H566.7" stroke="#61D04F" stroke-width="1" stroke-opacity="0.62"/>
<text x="570" y="250.44">No 2</text>
<path d="M559.7 257.36H566.7" stroke="#2297E6" stroke-width="1" stroke-opacity="0.62"/>
<text x="570" y="259.86">Yes 2</text>
<path d="M556.8 323.4 558.17 322.64 559.54 321.88 560.9 321.13 562.27 320.39 563.64 319.66 565.01 318.93 566.37 318.21 567.74 317.46 569.11 316.73 570.48 316 571.84 315.3 573.21 314.64 574.58 314.03 575.95 313.47 577.31 312.94 578.68 312.43 580.05 311.95 581.42 311.49 582.79 311.06 584.15 310.65 585.52 310.26 586.89 309.89 588.26 309.54 589.62 309.21 590.99 308.89 592.36 308.58 593.73 308.29 595.09 308.01 596.46 307.74 597.83 307.49 599.2 307.24 600.56 307 601.93 306.77 603.3 306.55 604.67 306.33 606.03 306.1 607.4 305.87 608.77 305.64 610.14 305.4 611.51 305.15 612.87 304.9 614.24 304.65 615.61 304.4 616.98 304.15 618.34 303.9 619.71 303.66 621.08 303.43 622.45 303.2 623.81 302.98 625.18 302.76 626.55 302.53 627.92 302.31 629.28 302.09 630.65 301.89 632.02 301.7 633.39 301.53 634.76 301.39 636.12 301.27 637.49 301.16 638.86 301.06 640.23 300.97 641.59 300.89 642.96 300.81 644.33 300.73 645.7 300.66 647.06 300.59 648.43 300.53 649.8 300.47 651.17 300.41 652.53 300.35 653.9 300.29 655.27 300.23 656.64 300.18 658 300.12 659.37 300.06 660.74 300.01 662.11 299.96 663.48 299.9 664.84 299.85 666.21 299.8 667.58 299.76 668.95 299.71 670.31 299.67 671.68 299.63 673.05 299.58 674.42 299.55 675.78 299.51 677.15 299.48 678.52 299.45" fill="none" stroke="#000000" stroke-width="1" stroke-opacity="0.75"/>
<path d="M556.8 323.4 557.17 323.4 557.17 322.57 557.41 322.57 557.41 322.03 557.77 322.03 557.77 321.23 558.02 321.23 558.02 320.7 558.32 320.7 558.32 320.06 558.57 320.06 558.57 319.56 558.93 319.56 558.93 318.82 559.3 318.82 559.3 318.11 559.72 318.11 559.72 317.3 559.97 317.3 559.97 316.85 560.33 316.85 560.33 316.2 560.7 316.2 560.7 315.56 560.94 315.56 560.94 315.15 561.37 315.15 561.37 314.44 561.79 314.44 561.79 313.75 562.1 313.75 562.1 313.28 562.52 313.28 562.52 312.63 562.83 312.63 562.83 312.18 563.25 312.18 563.25 311.57 563.74 311.57 563.74 310.91 564.11 310.91 564.11 310.43 564.35 310.43 564.35 310.12 564.59 310.12 564.59 309.81 565.14 309.81 565.14 309.13 565.69 309.13 565.69 308.47 566.18 308.47 566.18 307.87 566.73 307.87 566.73 307.2 567.21 307.2 567.21 306.59 567.7 306.59 567.7 305.96 568.31 305.96 568.31 305.16 568.8 305.16 568.8 304.52 569.4 304.52 569.4 303.74 569.65 303.74 569.65 303.44 570.2 303.44 570.2 302.78 570.87 302.78 570.87 302.04 571.23 302.04 571.23 301.67 571.96 301.67 571.96 300.98 572.57 300.98 572.57 300.45 573 300.45 573 300.09 573.67 300.09 573.67 299.54 574.58 299.54 574.58 298.82 575.25 298.82 575.25 298.29 575.86 298.29 575.86 297.8 576.71 297.8 576.71 297.06 577.08 297.06 577.08 296.73 577.62 296.73 577.62 296.21 578.11 296.21 578.11 295.74 578.6 295.74 578.6 295.25 579.09 295.25 579.09 294.76 579.76 294.76 579.76 294.07 580.12 294.07 580.12 293.7 580.43 293.7 580.43 293.38 581.1 293.38 581.1 292.7 581.76 292.7 581.76 292.03 582.37 292.03 582.37 291.45 582.68 291.45 582.68 291.16 583.1 291.16 583.1 290.77 583.71 290.77 583.71 290.22 584.44 290.22 584.44 289.55 585.05 289.55 585.05 289 585.42 289 585.42 288.67 585.72 288.67 585.72 288.41 586.51 288.41 586.51 287.73 587.37 287.73 587.37 287.04 587.73 287.04 587.73 286.76 588.83 286.76 588.83 286.01 589.86 286.01 589.86 285.37 590.9 285.37 590.9 284.78 591.57 284.78 591.57 284.42 592.79 284.42 592.79 283.82 593.94 283.82 593.94 283.32 594.67 283.32 594.67 283.03 595.71 283.03 595.71 282.67 596.68 282.67 596.68 282.39 597.66 282.39 597.66 282.12 598.75 282.12 598.75 281.83 600.4 281.83 600.4 281.35 601.43 281.35 601.43 281.01 602.35 281.01 602.35 280.71 604.11 280.71 604.11 280.09 604.96 280.09 604.96 279.8 606.18 279.8 606.18 279.39 607.4 279.39 607.4 279 608.74 279 608.74 278.59 610.02 278.59 610.02 278.22 612.15 278.22 612.15 277.6 614.83 277.6 614.83 276.9 616.11 276.9 616.11 276.61 619.21 276.61 619.21 275.99 621.77 275.99 621.77 275.54 624.88 275.54 624.88 275.03 628.65 275.03 628.65 274.47 630.6 274.47 630.6 274.21 633.58 274.21 633.58 273.85 637.11 273.85 637.11 273.46 640.34 273.46 640.34 273.15 643.32 273.15 643.32 272.89 652.7 272.89 652.7 272.18 656.96 272.18 656.96 271.92 670.54 271.92 670.54 271.22 672.67 271.22 672.67 270.63 673.4 270.63 673.4 270 678.52 270" fill="none" stroke="#DF536B" stroke-width="1" stroke-opacity="0.62"/>
<path d="M556.8 323.4 558.17 323.16 559.54 322.92 560.9 322.68 562.27 322.44 563.64 322.2 565.01 321.97 566.37 321.73 567.74 321.5 569.11 321.27 570.48 321.04 571.84 320.81 573.21 320.58 574.58 320.36 575.95 320.13 577.31 319.91 578.68 319.69 580.05 319.48 581.42 319.27 582.79 319.06 584.15 318.85 585.52 318.64 586.89 318.44 588.26 318.23 589.62 318.02 590.99 317.81 592.36 317.59 593.73 317.38 595.09 317.16 596.46 316.93 597.83 316.71 599.2 316.47 600.56 316.23 601.93 315.99 603.3 315.74 604.67 315.49 606.03 315.24 607.4 314.98 608.77 314.72 610.14 314.45 611.51 314.18 612.87 313.9 614.24 313.62 615.61 313.33 616.98 313.03 618.34 312.72 619.71 312.4 621.08 312.06 622.45 311.71 623.81 311.35 625.18 310.99 626.55 310.63 627.92 310.26 629.28 309.9 630.65 309.55 632.02 309.2 633.39 308.87 634.76 308.55 636.12 308.25 637.49 307.95 638.86 307.67 640.23 307.39 641.59 307.11 642.96 306.84 644.33 306.57 645.7 306.31 647.06 306.05 648.43 305.8 649.8 305.55 651.17 305.3 652.53 305.05 653.9 304.8 655.27 304.56 656.64 304.31 658 304.07 659.37 303.83 660.74 303.59 662.11 303.35 663.48 303.12 664.84 302.89 666.21 302.66 667.58 302.43 668.95 302.2 670.31 301.98 671.68 301.76 673.05 301.54 674.42 301.32 675.78 301.11 677.15 300.9 678.52 300.69" fill="none" stroke="#61D04F" stroke-width="1" stroke-opacity="0.62"/>
<path d="M556.8 323.4 558.17 323.12 559.54 322.84 560.9 322.57 562.27 322.3 563.64 322.04 565.01 321.78 566.37 321.54 567.74 321.3 569.11 321.07 570.48 320.84 571.84 320.63 573.21 320.43 574.58 320.24 575.95 320.06 577.31 319.89 578.68 319.73 580.05 319.58 581.42 319.43 582.79 319.29 584.15 319.16 585.52 319.02 586.89 318.89 588.26 318.77 589.62 318.64 590.99 318.51 592.36 318.38 593.73 318.25 595.09 318.12 596.46 317.97 597.83 317.83 599.2 317.68 600.56 317.51 601.93 317.35 603.3 317.17 604.67 317 606.03 316.81 607.4 316.63 608.77 316.44 610.14 316.25 611.51 316.06 612.87 315.87 614.24 315.68 615.61 315.5 616.98 315.31 618.34 315.13 619.71 314.94 621.08 314.75 622.45 314.56 623.81 314.37 625.18 314.17 626.55 313.98 627.92 313.8 629.28 313.61 630.65 313.43 632.02 313.25 633.39 313.08 634.76 312.92 636.12 312.76 637.49 312.61 638.86 312.46 640.23 312.32 641.59 312.18 642.96 312.05 644.33 311.91 645.7 311.78 647.06 311.65 648.43 311.52 649.8 311.39 651.17 311.26 652.53 311.13 653.9 310.99 655.27 310.87 656.64 310.77 658 310.68 659.37 310.58 660.74 310.44 662.11 310.23 663.48 309.53 664.84 308.99 666.21 308.99 667.58 308.99 668.95 308.99 670.31 308.99 671.68 308.99 673.05 308.99 674.42 308.99 675.78 308.99 677.15 308.99 678.52 308.99" fill="none" stroke="#2297E6" stroke-width="1" stroke-opacity="0.62"/>
<text class="cap" x="617.7" y="389" text-anchor="middle">(h)</text></g>
<g font-size="5.55"><path d="M31.4 433.7V545.9H163.4" fill="none" stroke="#727272" stroke-width="0.9"/>
<path d="M28.1 541.4H31.4M28.1 520.68H31.4M28.1 499.96H31.4M28.1 479.24H31.4M28.1 458.52H31.4M28.1 437.8H31.4M36.3 545.9V549.2M53.34 545.9V549.2M70.39 545.9V549.2M87.43 545.9V549.2M104.47 545.9V549.2M121.51 545.9V549.2M138.56 545.9V549.2M155.6 545.9V549.2" fill="none" stroke="#727272" stroke-width="0.8"/>
<text x="36.3" y="557.9" text-anchor="middle">0</text>
<text x="53.34" y="557.9" text-anchor="middle">20</text>
<text x="70.39" y="557.9" text-anchor="middle">40</text>
<text x="87.43" y="557.9" text-anchor="middle">60</text>
<text x="104.47" y="557.9" text-anchor="middle">80</text>
<text x="121.51" y="557.9" text-anchor="middle">100</text>
<text x="138.56" y="557.9" text-anchor="middle">120</text>
<text x="155.6" y="557.9" text-anchor="middle">140</text>
<text transform="translate(23.2 541.4) rotate(-90)" text-anchor="middle">0.0</text>
<text transform="translate(23.2 520.68) rotate(-90)" text-anchor="middle">0.2</text>
<text transform="translate(23.2 499.96) rotate(-90)" text-anchor="middle">0.4</text>
<text transform="translate(23.2 479.24) rotate(-90)" text-anchor="middle">0.6</text>
<text transform="translate(23.2 458.52) rotate(-90)" text-anchor="middle">0.8</text>
<text transform="translate(23.2 437.8) rotate(-90)" text-anchor="middle">1.0</text>
<text x="97.4" y="571" text-anchor="middle">Month</text>
<text transform="translate(10.1 489.8) rotate(-90)" text-anchor="middle">CIF</text>
<path d="M39.4 447.3H46.4" stroke="#000000" stroke-width="1" stroke-opacity="0.75"/>
<text x="49.6" y="449.8">Negative 1</text>
<path d="M39.4 456.75H46.4" stroke="#DF536B" stroke-width="1" stroke-opacity="0.62"/>
<text x="49.6" y="459.25">Positive 1</text>
<path d="M39.4 466.2H46.4" stroke="#61D04F" stroke-width="1" stroke-opacity="0.62"/>
<text x="49.6" y="468.7">Negative 2</text>
<path d="M39.4 475.65H46.4" stroke="#2297E6" stroke-width="1" stroke-opacity="0.62"/>
<text x="49.6" y="478.15">Positive 2</text>
<path d="M36.3 541.4 37.67 540.84 39.04 540.28 40.41 539.72 41.78 539.16 43.15 538.61 44.52 538.06 45.88 537.51 47.25 536.96 48.62 536.41 49.99 535.86 51.36 535.31 52.73 534.76 54.1 534.23 55.47 533.71 56.84 533.2 58.21 532.69 59.58 532.2 60.95 531.74 62.31 531.32 63.68 530.94 65.05 530.58 66.42 530.24 67.79 529.92 69.16 529.6 70.53 529.28 71.9 528.97 73.27 528.68 74.64 528.39 76.01 528.1 77.38 527.82 78.74 527.55 80.11 527.29 81.48 527.04 82.85 526.81 84.22 526.59 85.59 526.4 86.96 526.2 88.33 526.02 89.7 525.83 91.07 525.63 92.44 525.42 93.81 525.2 95.17 524.97 96.54 524.74 97.91 524.53 99.28 524.34 100.65 524.17 102.02 524 103.39 523.84 104.76 523.68 106.13 523.53 107.5 523.39 108.87 523.25 110.24 523.12 111.6 523 112.97 522.89 114.34 522.79 115.71 522.7 117.08 522.62 118.45 522.54 119.82 522.47 121.19 522.4 122.56 522.33 123.93 522.27 125.3 522.2 126.67 522.15 128.03 522.09 129.4 522.03 130.77 521.98 132.14 521.92 133.51 521.87 134.88 521.81 136.25 521.76 137.62 521.7 138.99 521.65 140.36 521.6 141.73 521.54 143.1 521.49 144.46 521.44 145.83 521.39 147.2 521.34 148.57 521.3 149.94 521.25 151.31 521.2 152.68 521.16 154.05 521.12 155.42 521.07 156.79 521.03 158.16 520.99" fill="none" stroke="#000000" stroke-width="1" stroke-opacity="0.75"/>
<path d="M36.3 541.4 37.67 539.68 39.04 538.04 40.41 536.51 41.78 535.12 43.15 533.81 44.52 532.57 45.88 531.39 47.25 530.25 48.62 529.13 49.99 528.04 51.36 526.98 52.73 525.96 54.1 524.99 55.47 524.09 56.84 523.24 58.21 522.44 59.58 521.69 60.95 521 62.31 520.37 63.68 519.78 65.05 519.22 66.42 518.7 67.79 518.19 69.16 517.71 70.53 517.25 71.9 516.8 73.27 516.36 74.64 515.93 76.01 515.51 77.38 515.11 78.74 514.71 80.11 514.32 81.48 513.94 82.85 513.57 84.22 513.21 85.59 512.86 86.96 512.52 88.33 512.17 89.7 511.83 91.07 511.49 92.44 511.14 93.81 510.77 95.17 510.4 96.54 510.04 97.91 509.71 99.28 509.43 100.65 509.2 102.02 508.98 103.39 508.77 104.76 508.58 106.13 508.4 107.5 508.22 108.87 508.06 110.24 507.91 111.6 507.76 112.97 507.62 114.34 507.48 115.71 507.35 117.08 507.21 118.45 507.08 119.82 506.96 121.19 506.84 122.56 506.72 123.93 506.6 125.3 506.49 126.67 506.39 128.03 506.29 129.4 506.19 130.77 506.1 132.14 506.01 133.51 505.93 134.88 505.86 136.25 505.78 137.62 505.71 138.99 505.64 140.36 505.58 141.73 505.51 143.1 505.44 144.46 505.38 145.83 505.32 147.2 505.27 148.57 505.21 149.94 505.16 151.31 505.11 152.68 505.07 154.05 505.03 155.42 504.99 156.79 504.96 158.16 504.93" fill="none" stroke="#DF536B" stroke-width="1" stroke-opacity="0.62"/>
<path d="M36.3 541.4 37.67 541.1 39.04 540.81 40.41 540.52 41.78 540.25 43.15 539.98 44.52 539.72 45.88 539.48 47.25 539.25 48.62 539.03 49.99 538.83 51.36 538.64 52.73 538.46 54.1 538.29 55.47 538.12 56.84 537.95 58.21 537.78 59.58 537.61 60.95 537.43 62.31 537.24 63.68 537.05 65.05 536.85 66.42 536.66 67.79 536.46 69.16 536.25 70.53 536.05 71.9 535.83 73.27 535.61 74.64 535.39 76.01 535.16 77.38 534.93 78.74 534.69 80.11 534.45 81.48 534.2 82.85 533.95 84.22 533.7 85.59 533.44 86.96 533.19 88.33 532.93 89.7 532.67 91.07 532.41 92.44 532.15 93.81 531.89 95.17 531.63 96.54 531.37 97.91 531.11 99.28 530.84 100.65 530.57 102.02 530.3 103.39 530.03 104.76 529.76 106.13 529.49 107.5 529.21 108.87 528.94 110.24 528.67 111.6 528.39 112.97 528.12 114.34 527.85 115.71 527.57 117.08 527.3 118.45 527.03 119.82 526.75 121.19 526.48 122.56 526.2 123.93 525.93 125.3 525.66 126.67 525.38 128.03 525.11 129.4 524.84 130.77 524.56 132.14 524.29 133.51 524.02 134.88 523.76 136.25 523.49 137.62 523.23 138.99 522.96 140.36 522.7 141.73 522.43 143.1 522.17 144.46 521.91 145.83 521.65 147.2 521.39 148.57 521.13 149.94 520.87 151.31 520.61 152.68 520.35 154.05 520.1 155.42 519.84 156.79 519.59 158.16 519.33" fill="none" stroke="#61D04F" stroke-width="1" stroke-opacity="0.62"/>
<path d="M36.3 541.4 37.67 540.99 39.04 540.59 40.41 540.2 41.78 539.83 43.15 539.48 44.52 539.15 45.88 538.84 47.25 538.55 48.62 538.29 49.99 538.06 51.36 537.84 52.73 537.64 54.1 537.44 55.47 537.26 56.84 537.08 58.21 536.9 59.58 536.71 60.95 536.51 62.31 536.31 63.68 536.09 65.05 535.87 66.42 535.64 67.79 535.41 69.16 535.18 70.53 534.94 71.9 534.71 73.27 534.48 74.64 534.24 76.01 534.01 77.38 533.78 78.74 533.54 80.11 533.31 81.48 533.07 82.85 532.84 84.22 532.6 85.59 532.37 86.96 532.13 88.33 531.89 89.7 531.65 91.07 531.42 92.44 531.18 93.81 530.94 95.17 530.7 96.54 530.46 97.91 530.22 99.28 529.97 100.65 529.72 102.02 529.47 103.39 529.22 104.76 528.97 106.13 528.73 107.5 528.48 108.87 528.24 110.24 528 111.6 527.76 112.97 527.53 114.34 527.31 115.71 527.09 117.08 526.88 118.45 526.69 119.82 526.51 121.19 526.33 122.56 526.16 123.93 525.98 125.3 525.81 126.67 525.63 128.03 525.44 129.4 525.24 130.77 525.02 132.14 524.79 133.51 524.54 134.88 524.27 136.25 523.95 137.62 523.56 138.99 523.15 140.36 522.72 141.73 522.19 143.1 521.63 144.46 521.31 145.83 521.2 147.2 521.11 148.57 521.03 149.94 520.96 151.31 520.91 152.68 520.86 154.05 520.83 155.42 520.8 156.79 520.79 158.16 520.78" fill="none" stroke="#2297E6" stroke-width="1" stroke-opacity="0.62"/>
<text class="cap" x="95.4" y="606.7" text-anchor="middle">(i)</text></g>
<g font-size="5.55"><path d="M204.5 433.7V545.9H336.7" fill="none" stroke="#727272" stroke-width="0.9"/>
<path d="M201.2 541.4H204.5M201.2 520.68H204.5M201.2 499.96H204.5M201.2 479.24H204.5M201.2 458.52H204.5M201.2 437.8H204.5M209.6 545.9V549.2M226.67 545.9V549.2M243.74 545.9V549.2M260.81 545.9V549.2M277.89 545.9V549.2M294.96 545.9V549.2M312.03 545.9V549.2M329.1 545.9V549.2" fill="none" stroke="#727272" stroke-width="0.8"/>
<text x="209.6" y="557.9" text-anchor="middle">0</text>
<text x="226.67" y="557.9" text-anchor="middle">20</text>
<text x="243.74" y="557.9" text-anchor="middle">40</text>
<text x="260.81" y="557.9" text-anchor="middle">60</text>
<text x="277.89" y="557.9" text-anchor="middle">80</text>
<text x="294.96" y="557.9" text-anchor="middle">100</text>
<text x="312.03" y="557.9" text-anchor="middle">120</text>
<text x="329.1" y="557.9" text-anchor="middle">140</text>
<text transform="translate(196.3 541.4) rotate(-90)" text-anchor="middle">0.0</text>
<text transform="translate(196.3 520.68) rotate(-90)" text-anchor="middle">0.2</text>
<text transform="translate(196.3 499.96) rotate(-90)" text-anchor="middle">0.4</text>
<text transform="translate(196.3 479.24) rotate(-90)" text-anchor="middle">0.6</text>
<text transform="translate(196.3 458.52) rotate(-90)" text-anchor="middle">0.8</text>
<text transform="translate(196.3 437.8) rotate(-90)" text-anchor="middle">1.0</text>
<text x="270.6" y="571" text-anchor="middle">Month</text>
<text transform="translate(183.2 489.8) rotate(-90)" text-anchor="middle">CIF</text>
<path d="M212.5 447.3H219.5" stroke="#000000" stroke-width="1" stroke-opacity="0.75"/>
<text x="222.7" y="449.8">No 1</text>
<path d="M212.5 456.75H219.5" stroke="#DF536B" stroke-width="1" stroke-opacity="0.62"/>
<text x="222.7" y="459.25">Yes 1</text>
<path d="M212.5 466.2H219.5" stroke="#61D04F" stroke-width="1" stroke-opacity="0.62"/>
<text x="222.7" y="468.7">No 2</text>
<path d="M212.5 475.65H219.5" stroke="#2297E6" stroke-width="1" stroke-opacity="0.62"/>
<text x="222.7" y="478.15">Yes 2</text>
<path d="M209.6 541.4 210.96 540.68 212.33 539.96 213.69 539.25 215.05 538.53 216.41 537.82 217.78 537.12 219.14 536.4 220.5 535.66 221.87 534.9 223.23 534.15 224.59 533.42 225.95 532.73 227.32 532.1 228.68 531.54 230.04 531.05 231.41 530.59 232.77 530.17 234.13 529.77 235.49 529.39 236.86 529.02 238.22 528.65 239.58 528.28 240.95 527.91 242.31 527.54 243.67 527.18 245.03 526.83 246.4 526.5 247.76 526.18 249.12 525.89 250.49 525.64 251.85 525.41 253.21 525.18 254.57 524.93 255.94 524.67 257.3 524.41 258.66 524.15 260.02 523.91 261.39 523.67 262.75 523.45 264.11 523.24 265.48 523.04 266.84 522.84 268.2 522.64 269.56 522.45 270.93 522.25 272.29 522.06 273.65 521.86 275.02 521.65 276.38 521.43 277.74 521.22 279.1 521.01 280.47 520.81 281.83 520.62 283.19 520.45 284.56 520.31 285.92 520.18 287.28 520.06 288.64 519.94 290.01 519.83 291.37 519.73 292.73 519.63 294.1 519.53 295.46 519.45 296.82 519.37 298.18 519.29 299.55 519.23 300.91 519.17 302.27 519.12 303.64 519.07 305 519.03 306.36 518.98 307.72 518.94 309.09 518.9 310.45 518.86 311.81 518.82 313.18 518.78 314.54 518.74 315.9 518.71 317.26 518.68 318.63 518.64 319.99 518.62 321.35 518.59 322.72 518.57 324.08 518.55 325.44 518.53 326.8 518.52 328.17 518.51 329.53 518.51 330.89 518.5" fill="none" stroke="#000000" stroke-width="1" stroke-opacity="0.75"/>
<path d="M209.6 541.4 209.96 541.4 209.96 540.77 210.33 540.77 210.33 540.14 210.57 540.14 210.57 539.73 210.81 539.73 210.81 539.31 211.06 539.31 211.06 538.9 211.42 538.9 211.42 538.29 211.72 538.29 211.72 537.78 211.97 537.78 211.97 537.37 212.15 537.37 212.15 537.07 212.33 537.07 212.33 536.77 212.76 536.77 212.76 536.07 213.18 536.07 213.18 535.38 213.54 535.38 213.54 534.8 214.03 534.8 214.03 534.02 214.51 534.02 214.51 533.25 214.76 533.25 214.76 532.87 214.94 532.87 214.94 532.59 215.3 532.59 215.3 532.02 215.61 532.02 215.61 531.56 215.85 531.56 215.85 531.18 216.09 531.18 216.09 530.81 216.46 530.81 216.46 530.26 216.82 530.26 216.82 529.72 217.12 529.72 217.12 529.26 217.43 529.26 217.43 528.81 217.73 528.81 217.73 528.36 217.91 528.36 217.91 528.1 218.16 528.1 218.16 527.74 218.46 527.74 218.46 527.29 219 527.29 219 526.49 219.43 526.49 219.43 525.87 219.85 525.87 219.85 525.25 220.16 525.25 220.16 524.81 220.46 524.81 220.46 524.37 220.7 524.37 220.7 524.02 221.07 524.02 221.07 523.5 221.55 523.5 221.55 522.82 221.86 522.82 221.86 522.39 222.22 522.39 222.22 521.89 222.71 521.89 222.71 521.23 223.07 521.23 223.07 520.74 223.56 520.74 223.56 520.11 223.98 520.11 223.98 519.56 224.22 519.56 224.22 519.26 224.59 519.26 224.59 518.8 225.07 518.8 225.07 518.2 225.44 518.2 225.44 517.76 225.8 517.76 225.8 517.33 226.16 517.33 226.16 516.89 226.77 516.89 226.77 516.18 227.26 516.18 227.26 515.62 227.62 515.62 227.62 515.2 228.05 515.2 228.05 514.72 228.71 514.72 228.71 513.96 229.26 513.96 229.26 513.34 229.74 513.34 229.74 512.8 230.17 512.8 230.17 512.33 230.65 512.33 230.65 511.79 231.26 511.79 231.26 511.12 231.56 511.12 231.56 510.8 231.99 510.8 231.99 510.34 232.29 510.34 232.29 510.02 233.02 510.02 233.02 509.27 233.45 509.27 233.45 508.84 234.17 508.84 234.17 508.13 234.96 508.13 234.96 507.38 235.69 507.38 235.69 506.7 236.48 506.7 236.48 505.99 236.84 505.99 236.84 505.67 237.69 505.67 237.69 504.93 238.18 504.93 238.18 504.53 239.09 504.53 239.09 503.8 240.06 503.8 240.06 503.05 240.61 503.05 240.61 502.65 241.52 502.65 241.52 502 242.24 502 242.24 501.49 242.97 501.49 242.97 501 243.52 501 243.52 500.64 244.25 500.64 244.25 500.17 244.91 500.17 244.91 499.74 245.58 499.74 245.58 499.31 246.43 499.31 246.43 498.79 247.64 498.79 247.64 498.07 248.37 498.07 248.37 497.65 249.65 497.65 249.65 496.98 250.5 496.98 250.5 496.55 251.71 496.55 251.71 495.97 252.86 495.97 252.86 495.51 254.56 495.51 254.56 494.97 255.59 494.97 255.59 494.69 256.93 494.69 256.93 494.36 258.87 494.36 258.87 493.89 261.54 493.89 261.54 493.16 262.57 493.16 262.57 492.8 263.42 492.8 263.42 492.48 264.15 492.48 264.15 492.18 265.3 492.18 265.3 491.69 266.82 491.69 266.82 491.04 268.4 491.04 268.4 490.39 270.09 490.39 270.09 489.78 272.04 489.78 272.04 489.27 277.32 489.27 277.32 488.62 280.41 488.62 280.41 488.36 285.75 488.36 285.75 487.85 288.96 487.85 288.96 487.38 292 487.38 292 486.86 293.94 486.86 293.94 486.53 299.7 486.53 299.7 485.79 324.76 485.79 324.76 485.09 325.01 485.09 325.01 484.72 325.25 484.72 325.25 484.35 330.89 484.35" fill="none" stroke="#DF536B" stroke-width="1" stroke-opacity="0.62"/>
<path d="M209.6 541.4 210.96 541.18 212.33 540.96 213.69 540.74 215.05 540.52 216.41 540.3 217.78 540.08 219.14 539.86 220.5 539.64 221.87 539.41 223.23 539.19 224.59 538.96 225.95 538.74 227.32 538.51 228.68 538.28 230.04 538.06 231.41 537.83 232.77 537.59 234.13 537.36 235.49 537.12 236.86 536.89 238.22 536.65 239.58 536.41 240.95 536.18 242.31 535.94 243.67 535.7 245.03 535.47 246.4 535.24 247.76 535 249.12 534.77 250.49 534.54 251.85 534.32 253.21 534.09 254.57 533.88 255.94 533.67 257.3 533.47 258.66 533.27 260.02 533.07 261.39 532.87 262.75 532.66 264.11 532.44 265.48 532.22 266.84 531.98 268.2 531.72 269.56 531.45 270.93 531.15 272.29 530.83 273.65 530.49 275.02 530.15 276.38 529.79 277.74 529.44 279.1 529.08 280.47 528.72 281.83 528.38 283.19 528.04 284.56 527.72 285.92 527.41 287.28 527.11 288.64 526.81 290.01 526.51 291.37 526.22 292.73 525.94 294.1 525.65 295.46 525.37 296.82 525.09 298.18 524.81 299.55 524.53 300.91 524.25 302.27 523.97 303.64 523.68 305 523.39 306.36 523.1 307.72 522.81 309.09 522.52 310.45 522.23 311.81 521.95 313.18 521.67 314.54 521.39 315.9 521.12 317.26 520.86 318.63 520.61 319.99 520.36 321.35 520.13 322.72 519.91 324.08 519.69 325.44 519.48 326.8 519.28 328.17 519.08 329.53 518.89 330.89 518.71" fill="none" stroke="#61D04F" stroke-width="1" stroke-opacity="0.62"/>
<path d="M209.6 541.4 210.96 541.04 212.33 540.68 213.69 540.34 215.05 540 216.41 539.67 217.78 539.35 219.14 539.03 220.5 538.74 221.87 538.45 223.23 538.18 224.59 537.92 225.95 537.68 227.32 537.46 228.68 537.25 230.04 537.06 231.41 536.87 232.77 536.69 234.13 536.51 235.49 536.35 236.86 536.19 238.22 536.03 239.58 535.88 240.95 535.74 242.31 535.6 243.67 535.46 245.03 535.33 246.4 535.21 247.76 535.09 249.12 534.97 250.49 534.86 251.85 534.75 253.21 534.64 254.57 534.54 255.94 534.45 257.3 534.36 258.66 534.27 260.02 534.19 261.39 534.11 262.75 534.03 264.11 533.95 265.48 533.87 266.84 533.79 268.2 533.71 269.56 533.62 270.93 533.52 272.29 533.43 273.65 533.34 275.02 533.25 276.38 533.16 277.74 533.06 279.1 532.96 280.47 532.86 281.83 532.75 283.19 532.64 284.56 532.53 285.92 532.4 287.28 532.26 288.64 532.11 290.01 531.95 291.37 531.79 292.73 531.62 294.1 531.44 295.46 531.27 296.82 531.1 298.18 530.94 299.55 530.78 300.91 530.64 302.27 530.51 303.64 530.4 305 530.31 306.36 530.23 307.72 530.16 309.09 530.1 310.45 530.04 311.81 529.96 313.18 529.88 314.54 529.78 315.9 529.66 317.26 529.51 318.63 529.33 319.99 529.05 321.35 528.02 322.72 527.62 324.08 527.62 325.44 527.62 326.8 527.62 328.17 527.62 329.53 527.62 330.89 527.62" fill="none" stroke="#2297E6" stroke-width="1" stroke-opacity="0.62"/>
<text class="cap" x="278.8" y="606.7" text-anchor="middle">(j)</text></g>
<g font-size="5.55"><path d="M378.5 433.7V545.9H510.3" fill="none" stroke="#727272" stroke-width="0.9"/>
<path d="M375.2 541.4H378.5M375.2 520.68H378.5M375.2 499.96H378.5M375.2 479.24H378.5M375.2 458.52H378.5M375.2 437.8H378.5M383.4 545.9V549.2M400.4 545.9V549.2M417.4 545.9V549.2M434.4 545.9V549.2M451.4 545.9V549.2M468.4 545.9V549.2M485.4 545.9V549.2M502.4 545.9V549.2" fill="none" stroke="#727272" stroke-width="0.8"/>
<text x="383.4" y="557.9" text-anchor="middle">0</text>
<text x="400.4" y="557.9" text-anchor="middle">20</text>
<text x="417.4" y="557.9" text-anchor="middle">40</text>
<text x="434.4" y="557.9" text-anchor="middle">60</text>
<text x="451.4" y="557.9" text-anchor="middle">80</text>
<text x="468.4" y="557.9" text-anchor="middle">100</text>
<text x="485.4" y="557.9" text-anchor="middle">120</text>
<text x="502.4" y="557.9" text-anchor="middle">140</text>
<text transform="translate(370.3 541.4) rotate(-90)" text-anchor="middle">0.0</text>
<text transform="translate(370.3 520.68) rotate(-90)" text-anchor="middle">0.2</text>
<text transform="translate(370.3 499.96) rotate(-90)" text-anchor="middle">0.4</text>
<text transform="translate(370.3 479.24) rotate(-90)" text-anchor="middle">0.6</text>
<text transform="translate(370.3 458.52) rotate(-90)" text-anchor="middle">0.8</text>
<text transform="translate(370.3 437.8) rotate(-90)" text-anchor="middle">1.0</text>
<text x="444.4" y="571" text-anchor="middle">Month</text>
<text transform="translate(357.2 489.8) rotate(-90)" text-anchor="middle">CIF</text>
<path d="M386.5 447.3H393.5" stroke="#000000" stroke-width="1" stroke-opacity="0.75"/>
<text x="396.7" y="449.8">&lt;5cm 1</text>
<path d="M386.5 456.75H393.5" stroke="#DF536B" stroke-width="1" stroke-opacity="0.62"/>
<text x="396.7" y="459.25">&#8805;5cm 1</text>
<path d="M386.5 466.2H393.5" stroke="#61D04F" stroke-width="1" stroke-opacity="0.62"/>
<text x="396.7" y="468.7">&lt;5cm 2</text>
<path d="M386.5 475.65H393.5" stroke="#2297E6" stroke-width="1" stroke-opacity="0.62"/>
<text x="396.7" y="478.15">&#8805;5cm 2</text>
<path d="M383.4 541.4 384.77 540.81 386.14 540.23 387.5 539.66 388.87 539.09 390.24 538.53 391.61 537.98 392.97 537.44 394.34 536.9 395.71 536.38 397.08 535.87 398.44 535.36 399.81 534.84 401.18 534.28 402.55 533.71 403.91 533.14 405.28 532.62 406.65 532.14 408.02 531.71 409.39 531.31 410.75 530.92 412.12 530.52 413.49 530.13 414.86 529.74 416.22 529.36 417.59 528.98 418.96 528.62 420.33 528.26 421.69 527.92 423.06 527.58 424.43 527.27 425.8 526.97 427.16 526.69 428.53 526.42 429.9 526.15 431.27 525.89 432.64 525.64 434 525.38 435.37 525.12 436.74 524.87 438.11 524.6 439.47 524.33 440.84 524.04 442.21 523.73 443.58 523.41 444.94 523.11 446.31 522.84 447.68 522.62 449.05 522.43 450.41 522.24 451.78 522.07 453.15 521.91 454.52 521.75 455.88 521.61 457.25 521.47 458.62 521.34 459.99 521.22 461.36 521.11 462.72 521 464.09 520.9 465.46 520.8 466.83 520.71 468.19 520.62 469.56 520.53 470.93 520.45 472.3 520.37 473.66 520.3 475.03 520.22 476.4 520.15 477.77 520.08 479.13 520.02 480.5 519.95 481.87 519.89 483.24 519.83 484.61 519.77 485.97 519.71 487.34 519.65 488.71 519.59 490.08 519.53 491.44 519.48 492.81 519.42 494.18 519.37 495.55 519.32 496.91 519.27 498.28 519.23 499.65 519.18 501.02 519.14 502.38 519.1 503.75 519.06 505.12 519.02" fill="none" stroke="#000000" stroke-width="1" stroke-opacity="0.75"/>
<path d="M383.4 541.4 384.77 539.85 386.14 538.37 387.5 536.98 388.87 535.66 390.24 534.39 391.61 533.18 392.97 532.03 394.34 530.94 395.71 529.88 397.08 528.88 398.44 527.93 399.81 527.05 401.18 526.21 402.55 525.42 403.91 524.68 405.28 523.99 406.65 523.36 408.02 522.77 409.39 522.22 410.75 521.7 412.12 521.2 413.49 520.71 414.86 520.22 416.22 519.75 417.59 519.31 418.96 518.89 420.33 518.52 421.69 518.19 423.06 517.91 424.43 517.65 425.8 517.4 427.16 517.14 428.53 516.86 429.9 516.57 431.27 516.26 432.64 515.96 434 515.65 435.37 515.36 436.74 515.08 438.11 514.82 439.47 514.59 440.84 514.38 442.21 514.19 443.58 514.02 444.94 513.86 446.31 513.69 447.68 513.51 449.05 513.31 450.41 513.11 451.78 512.9 453.15 512.69 454.52 512.47 455.88 512.26 457.25 512.06 458.62 511.87 459.99 511.68 461.36 511.52 462.72 511.37 464.09 511.24 465.46 511.12 466.83 511 468.19 510.89 469.56 510.78 470.93 510.68 472.3 510.58 473.66 510.48 475.03 510.39 476.4 510.3 477.77 510.22 479.13 510.13 480.5 510.04 481.87 509.96 483.24 509.87 484.61 509.78 485.97 509.7 487.34 509.62 488.71 509.54 490.08 509.45 491.44 509.37 492.81 509.3 494.18 509.22 495.55 509.14 496.91 509.07 498.28 509 499.65 508.93 501.02 508.86 502.38 508.79 503.75 508.73 505.12 508.66" fill="none" stroke="#DF536B" stroke-width="1" stroke-opacity="0.62"/>
<path d="M383.4 541.4 384.77 541.17 386.14 540.94 387.5 540.71 388.87 540.49 390.24 540.27 391.61 540.05 392.97 539.83 394.34 539.62 395.71 539.41 397.08 539.2 398.44 539 399.81 538.8 401.18 538.6 402.55 538.42 403.91 538.24 405.28 538.06 406.65 537.89 408.02 537.72 409.39 537.55 410.75 537.38 412.12 537.21 413.49 537.04 414.86 536.86 416.22 536.68 417.59 536.49 418.96 536.29 420.33 536.09 421.69 535.87 423.06 535.64 424.43 535.4 425.8 535.15 427.16 534.89 428.53 534.62 429.9 534.35 431.27 534.07 432.64 533.79 434 533.51 435.37 533.22 436.74 532.94 438.11 532.65 439.47 532.37 440.84 532.09 442.21 531.82 443.58 531.55 444.94 531.28 446.31 531.01 447.68 530.74 449.05 530.46 450.41 530.19 451.78 529.92 453.15 529.65 454.52 529.38 455.88 529.11 457.25 528.84 458.62 528.57 459.99 528.3 461.36 528.03 462.72 527.75 464.09 527.48 465.46 527.21 466.83 526.94 468.19 526.67 469.56 526.4 470.93 526.12 472.3 525.85 473.66 525.58 475.03 525.31 476.4 525.04 477.77 524.76 479.13 524.49 480.5 524.22 481.87 523.95 483.24 523.68 484.61 523.41 485.97 523.13 487.34 522.86 488.71 522.59 490.08 522.32 491.44 522.05 492.81 521.78 494.18 521.5 495.55 521.23 496.91 520.96 498.28 520.69 499.65 520.42 501.02 520.15 502.38 519.88 503.75 519.6 505.12 519.33" fill="none" stroke="#61D04F" stroke-width="1" stroke-opacity="0.62"/>
<path d="M383.4 541.4 384.77 541.12 386.14 540.84 387.5 540.57 388.87 540.3 390.24 540.04 391.61 539.77 392.97 539.51 394.34 539.26 395.71 539.01 397.08 538.76 398.44 538.51 399.81 538.28 401.18 538.04 402.55 537.82 403.91 537.61 405.28 537.4 406.65 537.19 408.02 536.99 409.39 536.79 410.75 536.58 412.12 536.38 413.49 536.18 414.86 535.97 416.22 535.75 417.59 535.53 418.96 535.3 420.33 535.06 421.69 534.81 423.06 534.55 424.43 534.27 425.8 533.99 427.16 533.69 428.53 533.39 429.9 533.08 431.27 532.77 432.64 532.46 434 532.15 435.37 531.84 436.74 531.53 438.11 531.22 439.47 530.93 440.84 530.64 442.21 530.36 443.58 530.1 444.94 529.84 446.31 529.58 447.68 529.33 449.05 529.09 450.41 528.84 451.78 528.6 453.15 528.36 454.52 528.13 455.88 527.89 457.25 527.66 458.62 527.42 459.99 527.19 461.36 526.95 462.72 526.72 464.09 526.48 465.46 526.24 466.83 526 468.19 525.77 469.56 525.53 470.93 525.29 472.3 525.06 473.66 524.83 475.03 524.59 476.4 524.36 477.77 524.12 479.13 523.88 480.5 523.65 481.87 523.41 483.24 523.17 484.61 522.93 485.97 522.7 487.34 522.46 488.71 522.22 490.08 521.98 491.44 521.74 492.81 521.5 494.18 521.26 495.55 521.02 496.91 520.78 498.28 520.54 499.65 520.3 501.02 520.06 502.38 519.82 503.75 519.58 505.12 519.33" fill="none" stroke="#2297E6" stroke-width="1" stroke-opacity="0.62"/>
<text class="cap" x="443" y="606.7" text-anchor="middle">(k)</text></g>
<g font-size="5.55"><path d="M551.7 433.7V545.9H683.7" fill="none" stroke="#727272" stroke-width="0.9"/>
<path d="M548.4 541.4H551.7M548.4 520.68H551.7M548.4 499.96H551.7M548.4 479.24H551.7M548.4 458.52H551.7M548.4 437.8H551.7M556.8 545.9V549.2M573.87 545.9V549.2M590.94 545.9V549.2M608.01 545.9V549.2M625.09 545.9V549.2M642.16 545.9V549.2M659.23 545.9V549.2M676.3 545.9V549.2" fill="none" stroke="#727272" stroke-width="0.8"/>
<text x="556.8" y="557.9" text-anchor="middle">0</text>
<text x="573.87" y="557.9" text-anchor="middle">20</text>
<text x="590.94" y="557.9" text-anchor="middle">40</text>
<text x="608.01" y="557.9" text-anchor="middle">60</text>
<text x="625.09" y="557.9" text-anchor="middle">80</text>
<text x="642.16" y="557.9" text-anchor="middle">100</text>
<text x="659.23" y="557.9" text-anchor="middle">120</text>
<text x="676.3" y="557.9" text-anchor="middle">140</text>
<text transform="translate(543.5 541.4) rotate(-90)" text-anchor="middle">0.0</text>
<text transform="translate(543.5 520.68) rotate(-90)" text-anchor="middle">0.2</text>
<text transform="translate(543.5 499.96) rotate(-90)" text-anchor="middle">0.4</text>
<text transform="translate(543.5 479.24) rotate(-90)" text-anchor="middle">0.6</text>
<text transform="translate(543.5 458.52) rotate(-90)" text-anchor="middle">0.8</text>
<text transform="translate(543.5 437.8) rotate(-90)" text-anchor="middle">1.0</text>
<text x="617.7" y="571" text-anchor="middle">Month</text>
<text transform="translate(530.4 489.8) rotate(-90)" text-anchor="middle">CIF</text>
<path d="M559.7 447.3H566.7" stroke="#000000" stroke-width="1" stroke-opacity="0.75"/>
<text x="569.9" y="449.8">Colon 1</text>
<path d="M559.7 456.75H566.7" stroke="#DF536B" stroke-width="1" stroke-opacity="0.62"/>
<text x="569.9" y="459.25">Rectum 1</text>
<path d="M559.7 466.2H566.7" stroke="#61D04F" stroke-width="1" stroke-opacity="0.62"/>
<text x="569.9" y="468.7">Colon 2</text>
<path d="M559.7 475.65H566.7" stroke="#2297E6" stroke-width="1" stroke-opacity="0.62"/>
<text x="569.9" y="478.15">Rectum 2</text>
<path d="M556.8 541.4 558.17 540.53 559.54 539.66 560.91 538.81 562.27 537.96 563.64 537.12 565.01 536.28 566.38 535.46 567.75 534.66 569.12 533.87 570.49 533.09 571.85 532.33 573.22 531.6 574.59 530.89 575.96 530.19 577.33 529.51 578.7 528.88 580.07 528.29 581.43 527.76 582.8 527.26 584.17 526.79 585.54 526.34 586.91 525.91 588.28 525.49 589.65 525.09 591.01 524.7 592.38 524.32 593.75 523.96 595.12 523.6 596.49 523.23 597.86 522.87 599.23 522.53 600.59 522.2 601.96 521.9 603.33 521.64 604.7 521.4 606.07 521.18 607.44 520.97 608.81 520.78 610.18 520.59 611.54 520.41 612.91 520.23 614.28 520.05 615.65 519.89 617.02 519.72 618.39 519.57 619.76 519.41 621.12 519.26 622.49 519.11 623.86 518.95 625.23 518.8 626.6 518.64 627.97 518.49 629.34 518.34 630.7 518.21 632.07 518.08 633.44 517.96 634.81 517.85 636.18 517.76 637.55 517.67 638.92 517.59 640.28 517.52 641.65 517.45 643.02 517.39 644.39 517.33 645.76 517.27 647.13 517.21 648.5 517.15 649.86 517.1 651.23 517.04 652.6 516.98 653.97 516.93 655.34 516.86 656.71 516.8 658.08 516.74 659.44 516.68 660.81 516.61 662.18 516.55 663.55 516.49 664.92 516.43 666.29 516.36 667.66 516.3 669.02 516.24 670.39 516.18 671.76 516.12 673.13 516.06 674.5 515.99 675.87 515.93 677.24 515.87 678.6 515.81" fill="none" stroke="#000000" stroke-width="1" stroke-opacity="0.75"/>
<path d="M556.8 541.4 558.17 540.6 559.54 539.81 560.91 539.01 562.27 538.2 563.64 537.39 565.01 536.58 566.38 535.77 567.75 534.97 569.12 534.16 570.49 533.36 571.85 532.57 573.22 531.81 574.59 531.09 575.96 530.4 577.33 529.73 578.7 529.09 580.07 528.5 581.43 527.94 582.8 527.42 584.17 526.92 585.54 526.45 586.91 526.01 588.28 525.6 589.65 525.22 591.01 524.85 592.38 524.47 593.75 524.09 595.12 523.69 596.49 523.26 597.86 522.82 599.23 522.37 600.59 521.93 601.96 521.49 603.33 521.06 604.7 520.65 606.07 520.23 607.44 519.82 608.81 519.42 610.18 519.02 611.54 518.61 612.91 518.21 614.28 517.79 615.65 517.37 617.02 516.95 618.39 516.55 619.76 516.19 621.12 515.87 622.49 515.57 623.86 515.28 625.23 515 626.6 514.72 627.97 514.47 629.34 514.22 630.7 514 632.07 513.79 633.44 513.6 634.81 513.43 636.18 513.29 637.55 513.16 638.92 513.03 640.28 512.91 641.65 512.8 643.02 512.69 644.39 512.6 645.76 512.51 647.13 512.43 648.5 512.37 649.86 512.32 651.23 512.27 652.6 512.24 653.97 512.22 655.34 512.2 656.71 512.19 658.08 512.17 659.44 512.16 660.81 512.15 662.18 512.13 663.55 512.11 664.92 512.07 666.29 512.03 667.66 511.97 669.02 511.41 670.39 510.94 671.76 510.94 673.13 510.94 674.5 510.94 675.87 510.94 677.24 510.94 678.6 510.94" fill="none" stroke="#DF536B" stroke-width="1" stroke-opacity="0.62"/>
<path d="M556.8 541.4 558.17 541.08 559.54 540.77 560.91 540.47 562.27 540.17 563.64 539.87 565.01 539.59 566.38 539.31 567.75 539.04 569.12 538.78 570.49 538.53 571.85 538.29 573.22 538.06 574.59 537.84 575.96 537.64 577.33 537.44 578.7 537.26 580.07 537.08 581.43 536.91 582.8 536.75 584.17 536.59 585.54 536.42 586.91 536.26 588.28 536.09 589.65 535.92 591.01 535.74 592.38 535.55 593.75 535.34 595.12 535.13 596.49 534.9 597.86 534.65 599.23 534.4 600.59 534.13 601.96 533.85 603.33 533.57 604.7 533.28 606.07 532.99 607.44 532.71 608.81 532.42 610.18 532.14 611.54 531.87 612.91 531.61 614.28 531.35 615.65 531.11 617.02 530.86 618.39 530.61 619.76 530.35 621.12 530.08 622.49 529.79 623.86 529.48 625.23 529.17 626.6 528.84 627.97 528.52 629.34 528.19 630.7 527.86 632.07 527.54 633.44 527.22 634.81 526.91 636.18 526.62 637.55 526.33 638.92 526.05 640.28 525.77 641.65 525.49 643.02 525.22 644.39 524.95 645.76 524.68 647.13 524.42 648.5 524.15 649.86 523.89 651.23 523.63 652.6 523.36 653.97 523.1 655.34 522.83 656.71 522.56 658.08 522.29 659.44 522.02 660.81 521.76 662.18 521.49 663.55 521.22 664.92 520.95 666.29 520.69 667.66 520.42 669.02 520.15 670.39 519.89 671.76 519.62 673.13 519.36 674.5 519.09 675.87 518.83 677.24 518.56 678.6 518.3" fill="none" stroke="#61D04F" stroke-width="1" stroke-opacity="0.62"/>
<path d="M556.8 541.4 558.17 541.15 559.54 540.9 560.91 540.65 562.27 540.41 563.64 540.17 565.01 539.94 566.38 539.71 567.75 539.49 569.12 539.28 570.49 539.07 571.85 538.87 573.22 538.67 574.59 538.48 575.96 538.3 577.33 538.13 578.7 537.97 580.07 537.81 581.43 537.66 582.8 537.51 584.17 537.36 585.54 537.22 586.91 537.07 588.28 536.92 589.65 536.76 591.01 536.6 592.38 536.43 593.75 536.26 595.12 536.07 596.49 535.87 597.86 535.66 599.23 535.44 600.59 535.21 601.96 534.98 603.33 534.74 604.7 534.51 606.07 534.27 607.44 534.04 608.81 533.81 610.18 533.59 611.54 533.37 612.91 533.17 614.28 532.99 615.65 532.81 617.02 532.64 618.39 532.46 619.76 532.28 621.12 532.09 622.49 531.88 623.86 531.67 625.23 531.45 626.6 531.23 627.97 531 629.34 530.77 630.7 530.54 632.07 530.32 633.44 530.09 634.81 529.86 636.18 529.64 637.55 529.42 638.92 529.19 640.28 528.96 641.65 528.74 643.02 528.51 644.39 528.28 645.76 528.06 647.13 527.83 648.5 527.61 649.86 527.39 651.23 527.17 652.6 526.96 653.97 526.75 655.34 526.54 656.71 526.34 658.08 526.14 659.44 525.94 660.81 525.75 662.18 525.56 663.55 525.38 664.92 525.19 666.29 525.01 667.66 524.84 669.02 524.64 670.39 524.43 671.76 524.31 673.13 524.31 674.5 524.31 675.87 524.31 677.24 524.31 678.6 524.31" fill="none" stroke="#2297E6" stroke-width="1" stroke-opacity="0.62"/>
<text class="cap" x="601.3" y="606.7" text-anchor="middle">(l)</text></g>
</g>
</svg>
</body></html>
